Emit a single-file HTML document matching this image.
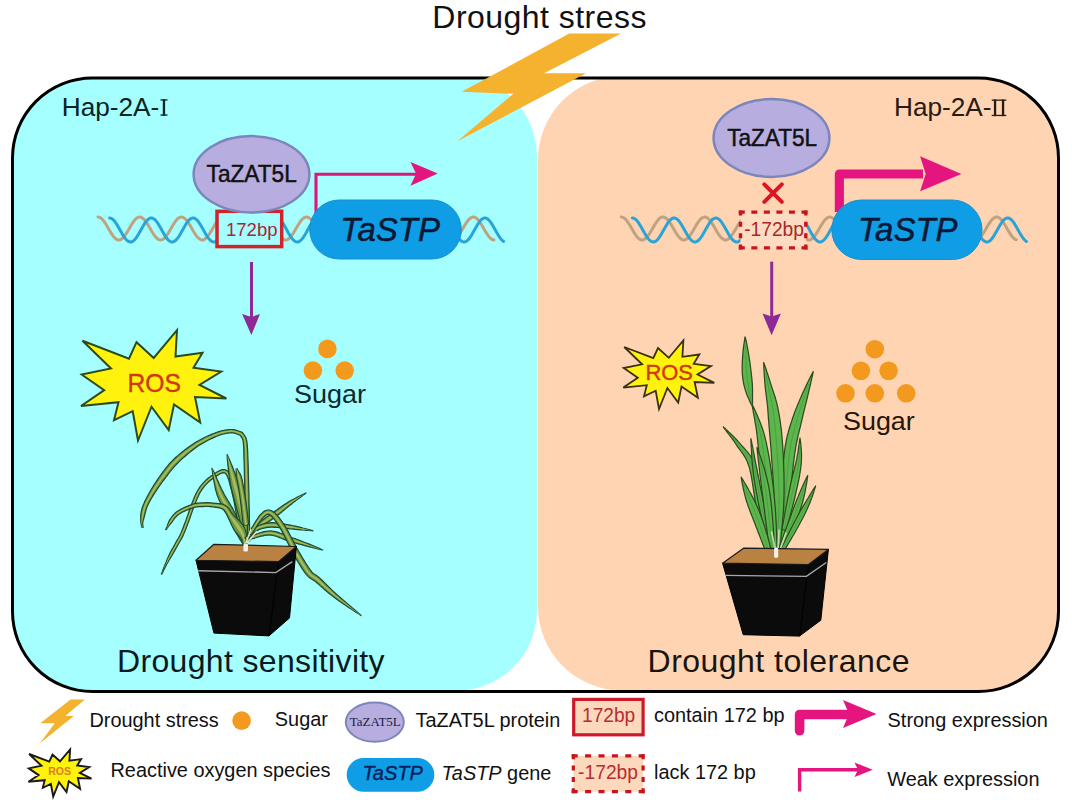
<!DOCTYPE html>
<html><head><meta charset="utf-8"><title>Drought stress TaSTP</title>
<style>
html,body{margin:0;padding:0;background:#fff;width:1072px;height:800px;overflow:hidden}
svg{display:block;position:absolute;left:0;top:0}
text{font-family:"Liberation Sans",sans-serif}
</style></head><body>
<svg width="1072" height="800" viewBox="0 0 1072 800"><defs><clipPath id="oc"><rect x="12.5" y="78" width="1046" height="613.5" rx="80" ry="80"/></clipPath></defs><g clip-path="url(#oc)"><rect x="0" y="0" width="1072" height="800" fill="#fff"/><path d="M0 76 H457 A80 80 0 0 1 537 156 V610.5 A80 80 0 0 1 457 690.5 H0 Z" fill="#A6FFFF"/><path d="M1072 76 H622 A84 84 0 0 0 538 160 V606.5 A84 84 0 0 0 622 690.5 H1072 Z" fill="#FED4B2"/></g><rect x="12.5" y="78" width="1046" height="613.5" rx="80" ry="80" fill="none" stroke="#000" stroke-width="3"/><path d="M98.0 217.0 L99.0 217.1 L100.0 217.5 L101.0 218.2 L102.0 219.0 L103.0 220.1 L104.0 221.4 L105.0 222.8 L106.0 224.4 L107.0 226.0 L108.0 227.8 L109.0 229.5 L110.0 231.2 L111.0 232.9 L112.0 234.4 L113.0 235.8 L114.0 237.1 L115.0 238.1 L116.0 239.0 L117.0 239.6 L118.0 239.9 L119.0 240.0 L120.0 239.8 L121.0 239.4 L122.0 238.7 L123.0 237.8 L124.0 236.7 L125.0 235.4 L126.0 233.9 L127.0 232.4 L128.0 230.7 L129.0 229.0 L130.0 227.2 L131.0 225.5 L132.0 223.9 L133.0 222.4 L134.0 221.0 L135.0 219.8 L136.0 218.7 L137.0 217.9 L138.0 217.4 L139.0 217.1 L140.0 217.0 L141.0 217.2 L142.0 217.7 L143.0 218.4 L144.0 219.3 L145.0 220.5 L146.0 221.8 L147.0 223.3 L148.0 224.9 L149.0 226.6 L150.0 228.3 L151.0 230.0 L152.0 231.7 L153.0 233.3 L154.0 234.8 L155.0 236.2 L156.0 237.4 L157.0 238.4 L158.0 239.2 L159.0 239.7 L160.0 240.0 L161.0 240.0 L162.0 239.7 L163.0 239.2 L164.0 238.5 L165.0 237.5 L166.0 236.3 L167.0 235.0 L168.0 233.5 L169.0 231.9 L170.0 230.2 L171.0 228.5 L172.0 226.7 L173.0 225.0 L174.0 223.4 L175.0 221.9 L176.0 220.6 L177.0 219.4 L178.0 218.5 L179.0 217.7 L180.0 217.3 L181.0 217.0 L182.0 217.0 L183.0 217.3 L184.0 217.9 L185.0 218.7 L186.0 219.7 L187.0 220.9 L188.0 222.2 L189.0 223.8 L190.0 225.4 L191.0 227.1 L192.0 228.8 L193.0 230.5 L194.0 232.2 L195.0 233.8 L196.0 235.3 L197.0 236.6 L198.0 237.7 L199.0 238.6 L200.0 239.3 L201.0 239.8 L202.0 240.0 L203.0 239.9 L204.0 239.6 L205.0 239.0 L206.0 238.2 L207.0 237.2 L208.0 235.9 L209.0 234.5 L210.0 233.0 L211.0 231.4 L212.0 229.7 L213.0 227.9 L214.0 226.2 L215.0 224.6 L216.0 223.0 L217.0 221.5 L218.0 220.2 L219.0 219.1 L220.0 218.2 L221.0 217.6 L222.0 217.2 L223.0 217.0 L224.0 217.1 L225.0 217.5 L226.0 218.1 L227.0 218.9 L228.0 220.0 L229.0 221.3 L230.0 222.7 L231.0 224.2 L232.0 225.9 L233.0 227.6 L234.0 229.3 L235.0 231.0 L236.0 232.7 L237.0 234.2 L238.0 235.7 L239.0 236.9 L240.0 238.0 L241.0 238.9 L242.0 239.5 L243.0 239.9 L244.0 240.0 L245.0 239.9 L246.0 239.5 L247.0 238.8 L248.0 237.9 L249.0 236.8 L250.0 235.5 L251.0 234.1 L252.0 232.5 L253.0 230.9 L254.0 229.1 L255.0 227.4 L256.0 225.7 L257.0 224.1 L258.0 222.5 L259.0 221.1 L260.0 219.9 L261.0 218.8 L262.0 218.0 L263.0 217.4 L264.0 217.1 L265.0 217.0 L266.0 217.2 L267.0 217.6 L268.0 218.3 L269.0 219.2 L270.0 220.4 L271.0 221.7 L272.0 223.1 L273.0 224.7 L274.0 226.4 L275.0 228.1 L276.0 229.8 L277.0 231.5 L278.0 233.2 L279.0 234.7 L280.0 236.1 L281.0 237.3 L282.0 238.3 L283.0 239.1 L284.0 239.6 L285.0 239.9 L286.0 240.0 L287.0 239.8 L288.0 239.3 L289.0 238.6 L290.0 237.6 L291.0 236.5 L292.0 235.1 L293.0 233.6 L294.0 232.0 L295.0 230.4 L296.0 228.6 L297.0 226.9 L298.0 225.2 L299.0 223.6 L300.0 222.1 L301.0 220.7 L302.0 219.5 L303.0 218.6 L304.0 217.8 L305.0 217.3 L306.0 217.0 L307.0 217.0 L308.0 217.3 L309.0 217.8 L310.0 218.6 L311.0 219.5 L312.0 220.7 L313.0 222.1 L314.0 223.6 L315.0 225.2 L316.0 226.9 L317.0 228.6 L318.0 230.4 L319.0 232.0 L320.0 233.6 L321.0 235.1 L322.0 236.5 L323.0 237.6 L324.0 238.6 L325.0 239.3 L326.0 239.8 L327.0 240.0 L328.0 239.9 L329.0 239.6 L330.0 239.1 L331.0 238.3 L332.0 237.3 L333.0 236.1 L334.0 234.7 L335.0 233.2 L336.0 231.5 L337.0 229.8 L338.0 228.1 L339.0 226.4 L340.0 224.7 L341.0 223.1 L342.0 221.7 L343.0 220.4 L344.0 219.2 L345.0 218.3 L346.0 217.6 L347.0 217.2 L348.0 217.0 L349.0 217.1 L350.0 217.4 L351.0 218.0 L352.0 218.8 L353.0 219.9 L354.0 221.1 L355.0 222.5 L356.0 224.1 L357.0 225.7 L358.0 227.4 L359.0 229.1 L360.0 230.9 L361.0 232.5 L362.0 234.1 L363.0 235.5 L364.0 236.8 L365.0 237.9 L366.0 238.8 L367.0 239.5 L368.0 239.9 L369.0 240.0 L370.0 239.9 L371.0 239.5 L372.0 238.9 L373.0 238.0 L374.0 236.9 L375.0 235.7 L376.0 234.3 L377.0 232.7 L378.0 231.0 L379.0 229.3 L380.0 227.6 L381.0 225.9 L382.0 224.2 L383.0 222.7 L384.0 221.3 L385.0 220.0 L386.0 218.9 L387.0 218.1 L388.0 217.5 L389.0 217.1 L390.0 217.0 L391.0 217.2 L392.0 217.6 L393.0 218.2 L394.0 219.1 L395.0 220.2 L396.0 221.5 L397.0 223.0 L398.0 224.6 L399.0 226.2 L400.0 227.9 L401.0 229.7 L402.0 231.4 L403.0 233.0 L404.0 234.5 L405.0 235.9 L406.0 237.2 L407.0 238.2 L408.0 239.0 L409.0 239.6 L410.0 239.9 L411.0 240.0 L412.0 239.8 L413.0 239.3 L414.0 238.6 L415.0 237.7 L416.0 236.6 L417.0 235.3 L418.0 233.8 L419.0 232.2 L420.0 230.5 L421.0 228.8 L422.0 227.1 L423.0 225.4 L424.0 223.8 L425.0 222.2 L426.0 220.9 L427.0 219.7 L428.0 218.7 L429.0 217.9 L430.0 217.3 L431.0 217.0 L432.0 217.0 L433.0 217.3 L434.0 217.7 L435.0 218.5 L436.0 219.4 L437.0 220.6 L438.0 221.9 L439.0 223.4 L440.0 225.0 L441.0 226.7 L442.0 228.5 L443.0 230.2 L444.0 231.9 L445.0 233.5 L446.0 235.0 L447.0 236.3 L448.0 237.5 L449.0 238.5 L450.0 239.2 L451.0 239.7 L452.0 240.0 L453.0 240.0 L454.0 239.7 L455.0 239.2 L456.0 238.4 L457.0 237.4 L458.0 236.2 L459.0 234.8 L460.0 233.3 L461.0 231.7 L462.0 230.0 L463.0 228.3 L464.0 226.6 L465.0 224.9 L466.0 223.3 L467.0 221.8 L468.0 220.5 L469.0 219.3 L470.0 218.4 L471.0 217.7 L472.0 217.2 L473.0 217.0 L474.0 217.1 L475.0 217.4 L476.0 217.9 L477.0 218.7 L478.0 219.8 L479.0 221.0 L480.0 222.4 L481.0 223.9 L482.0 225.5 L483.0 227.2 L484.0 229.0 L485.0 230.7 L486.0 232.4 L487.0 233.9 L488.0 235.4 L489.0 236.7 L490.0 237.8 L491.0 238.7 L492.0 239.4 L493.0 239.8 L494.0 240.0" fill="none" stroke="#C0A281" stroke-width="3.0" stroke-linecap="round"/><path d="M109.6 218.0 L110.6 218.1 L111.6 218.5 L112.6 219.2 L113.6 220.1 L114.6 221.2 L115.6 222.6 L116.6 224.1 L117.6 225.7 L118.6 227.4 L119.6 229.2 L120.6 231.0 L121.6 232.8 L122.6 234.5 L123.6 236.2 L124.6 237.6 L125.6 238.9 L126.6 240.0 L127.6 240.9 L128.6 241.5 L129.6 241.9 L130.6 242.0 L131.6 241.8 L132.6 241.4 L133.6 240.7 L134.6 239.7 L135.6 238.6 L136.6 237.2 L137.6 235.7 L138.6 234.0 L139.6 232.3 L140.6 230.5 L141.6 228.7 L142.6 226.9 L143.6 225.2 L144.6 223.6 L145.6 222.2 L146.6 220.9 L147.6 219.8 L148.6 219.0 L149.6 218.4 L150.6 218.1 L151.6 218.0 L152.6 218.2 L153.6 218.7 L154.6 219.5 L155.6 220.4 L156.6 221.6 L157.6 223.0 L158.6 224.6 L159.6 226.2 L160.6 228.0 L161.6 229.8 L162.6 231.6 L163.6 233.3 L164.6 235.0 L165.6 236.6 L166.6 238.0 L167.6 239.3 L168.6 240.3 L169.6 241.1 L170.6 241.7 L171.6 242.0 L172.6 242.0 L173.6 241.7 L174.6 241.2 L175.6 240.4 L176.6 239.4 L177.6 238.2 L178.6 236.8 L179.6 235.2 L180.6 233.5 L181.6 231.8 L182.6 230.0 L183.6 228.2 L184.6 226.4 L185.6 224.7 L186.6 223.2 L187.6 221.8 L188.6 220.5 L189.6 219.5 L190.6 218.8 L191.6 218.3 L192.6 218.0 L193.6 218.0 L194.6 218.3 L195.6 218.9 L196.6 219.7 L197.6 220.8 L198.6 222.0 L199.6 223.5 L200.6 225.0 L201.6 226.7 L202.6 228.5 L203.6 230.3 L204.6 232.1 L205.6 233.9 L206.6 235.5 L207.6 237.1 L208.6 238.4 L209.6 239.6 L210.6 240.6 L211.6 241.3 L212.6 241.8 L213.6 242.0 L214.6 241.9 L215.6 241.6 L216.6 241.0 L217.6 240.1 L218.6 239.1 L219.6 237.8 L220.6 236.3 L221.6 234.7 L222.6 233.0 L223.6 231.2 L224.6 229.4 L225.6 227.6 L226.6 225.9 L227.6 224.2 L228.6 222.7 L229.6 221.4 L230.6 220.2 L231.6 219.3 L232.6 218.6 L233.6 218.2 L234.6 218.0 L235.6 218.1 L236.6 218.5 L237.6 219.1 L238.6 220.0 L239.6 221.1 L240.6 222.4 L241.6 223.9 L242.6 225.5 L243.6 227.3 L244.6 229.1 L245.6 230.9 L246.6 232.6 L247.6 234.4 L248.6 236.0 L249.6 237.5 L250.6 238.8 L251.6 239.9 L252.6 240.8 L253.6 241.5 L254.6 241.9 L255.6 242.0 L256.6 241.9 L257.6 241.4 L258.6 240.8 L259.6 239.8 L260.6 238.7 L261.6 237.3 L262.6 235.8 L263.6 234.2 L264.6 232.5 L265.6 230.7 L266.6 228.9 L267.6 227.1 L268.6 225.4 L269.6 223.8 L270.6 222.3 L271.6 221.0 L272.6 219.9 L273.6 219.1 L274.6 218.4 L275.6 218.1 L276.6 218.0 L277.6 218.2 L278.6 218.7 L279.6 219.4 L280.6 220.3 L281.6 221.5 L282.6 222.9 L283.6 224.4 L284.6 226.1 L285.6 227.8 L286.6 229.6 L287.6 231.4 L288.6 233.2 L289.6 234.9 L290.6 236.5 L291.6 237.9 L292.6 239.2 L293.6 240.2 L294.6 241.1 L295.6 241.6 L296.6 241.9 L297.6 242.0 L298.6 241.8 L299.6 241.3 L300.6 240.5 L301.6 239.5 L302.6 238.3 L303.6 236.9 L304.6 235.4 L305.6 233.7 L306.6 231.9 L307.6 230.1 L308.6 228.3 L309.6 226.6 L310.6 224.9 L311.6 223.3 L312.6 221.9 L313.6 220.7 L314.6 219.6 L315.6 218.8 L316.6 218.3 L317.6 218.0 L318.6 218.0 L319.6 218.3 L320.6 218.8 L321.6 219.6 L322.6 220.7 L323.6 221.9 L324.6 223.3 L325.6 224.9 L326.6 226.6 L327.6 228.3 L328.6 230.1 L329.6 231.9 L330.6 233.7 L331.6 235.4 L332.6 236.9 L333.6 238.3 L334.6 239.5 L335.6 240.5 L336.6 241.3 L337.6 241.8 L338.6 242.0 L339.6 241.9 L340.6 241.6 L341.6 241.1 L342.6 240.2 L343.6 239.2 L344.6 237.9 L345.6 236.5 L346.6 234.9 L347.6 233.2 L348.6 231.4 L349.6 229.6 L350.6 227.8 L351.6 226.1 L352.6 224.4 L353.6 222.9 L354.6 221.5 L355.6 220.3 L356.6 219.4 L357.6 218.7 L358.6 218.2 L359.6 218.0 L360.6 218.1 L361.6 218.4 L362.6 219.1 L363.6 219.9 L364.6 221.0 L365.6 222.3 L366.6 223.8 L367.6 225.4 L368.6 227.1 L369.6 228.9 L370.6 230.7 L371.6 232.5 L372.6 234.2 L373.6 235.8 L374.6 237.3 L375.6 238.7 L376.6 239.8 L377.6 240.8 L378.6 241.4 L379.6 241.9 L380.6 242.0 L381.6 241.9 L382.6 241.5 L383.6 240.8 L384.6 239.9 L385.6 238.8 L386.6 237.5 L387.6 236.0 L388.6 234.4 L389.6 232.6 L390.6 230.9 L391.6 229.1 L392.6 227.3 L393.6 225.5 L394.6 223.9 L395.6 222.4 L396.6 221.1 L397.6 220.0 L398.6 219.1 L399.6 218.5 L400.6 218.1 L401.6 218.0 L402.6 218.2 L403.6 218.6 L404.6 219.3 L405.6 220.2 L406.6 221.4 L407.6 222.7 L408.6 224.2 L409.6 225.9 L410.6 227.6 L411.6 229.4 L412.6 231.2 L413.6 233.0 L414.6 234.7 L415.6 236.3 L416.6 237.8 L417.6 239.1 L418.6 240.1 L419.6 241.0 L420.6 241.6 L421.6 241.9 L422.6 242.0 L423.6 241.8 L424.6 241.3 L425.6 240.6 L426.6 239.6 L427.6 238.4 L428.6 237.1 L429.6 235.5 L430.6 233.9 L431.6 232.1 L432.6 230.3 L433.6 228.5 L434.6 226.7 L435.6 225.0 L436.6 223.5 L437.6 222.0 L438.6 220.8 L439.6 219.7 L440.6 218.9 L441.6 218.3 L442.6 218.0 L443.6 218.0 L444.6 218.3 L445.6 218.8 L446.6 219.5 L447.6 220.5 L448.6 221.8 L449.6 223.2 L450.6 224.7 L451.6 226.4 L452.6 228.2 L453.6 230.0 L454.6 231.8 L455.6 233.5 L456.6 235.2 L457.6 236.8 L458.6 238.2 L459.6 239.4 L460.6 240.4 L461.6 241.2 L462.6 241.7 L463.6 242.0 L464.6 242.0 L465.6 241.7 L466.6 241.1 L467.6 240.3 L468.6 239.3 L469.6 238.0 L470.6 236.6 L471.6 235.0 L472.6 233.3 L473.6 231.6 L474.6 229.8 L475.6 228.0 L476.6 226.2 L477.6 224.6 L478.6 223.0 L479.6 221.6 L480.6 220.4 L481.6 219.5 L482.6 218.7 L483.6 218.2 L484.6 218.0 L485.6 218.1 L486.6 218.4 L487.6 219.0 L488.6 219.8 L489.6 220.9 L490.6 222.2 L491.6 223.6 L492.6 225.2 L493.6 226.9 L494.6 228.7 L495.6 230.5 L496.6 232.3 L497.6 234.0 L498.6 235.7 L499.6 237.2 L500.6 238.6 L501.6 239.7 L502.6 240.7 L503.6 241.4" fill="none" stroke="#2AA4D6" stroke-width="3.0" stroke-linecap="round"/><path d="M621.3 217.0 L622.3 217.1 L623.3 217.5 L624.3 218.2 L625.3 219.0 L626.3 220.1 L627.3 221.4 L628.3 222.8 L629.3 224.4 L630.3 226.0 L631.3 227.8 L632.3 229.5 L633.3 231.2 L634.3 232.9 L635.3 234.4 L636.3 235.8 L637.3 237.1 L638.3 238.1 L639.3 239.0 L640.3 239.6 L641.3 239.9 L642.3 240.0 L643.3 239.8 L644.3 239.4 L645.3 238.7 L646.3 237.8 L647.3 236.7 L648.3 235.4 L649.3 233.9 L650.3 232.4 L651.3 230.7 L652.3 229.0 L653.3 227.2 L654.3 225.5 L655.3 223.9 L656.3 222.4 L657.3 221.0 L658.3 219.8 L659.3 218.7 L660.3 217.9 L661.3 217.4 L662.3 217.1 L663.3 217.0 L664.3 217.2 L665.3 217.7 L666.3 218.4 L667.3 219.3 L668.3 220.5 L669.3 221.8 L670.3 223.3 L671.3 224.9 L672.3 226.6 L673.3 228.3 L674.3 230.0 L675.3 231.7 L676.3 233.3 L677.3 234.8 L678.3 236.2 L679.3 237.4 L680.3 238.4 L681.3 239.2 L682.3 239.7 L683.3 240.0 L684.3 240.0 L685.3 239.7 L686.3 239.2 L687.3 238.5 L688.3 237.5 L689.3 236.3 L690.3 235.0 L691.3 233.5 L692.3 231.9 L693.3 230.2 L694.3 228.5 L695.3 226.7 L696.3 225.0 L697.3 223.4 L698.3 221.9 L699.3 220.6 L700.3 219.4 L701.3 218.5 L702.3 217.7 L703.3 217.3 L704.3 217.0 L705.3 217.0 L706.3 217.3 L707.3 217.9 L708.3 218.7 L709.3 219.7 L710.3 220.9 L711.3 222.2 L712.3 223.8 L713.3 225.4 L714.3 227.1 L715.3 228.8 L716.3 230.5 L717.3 232.2 L718.3 233.8 L719.3 235.3 L720.3 236.6 L721.3 237.7 L722.3 238.6 L723.3 239.3 L724.3 239.8 L725.3 240.0 L726.3 239.9 L727.3 239.6 L728.3 239.0 L729.3 238.2 L730.3 237.2 L731.3 235.9 L732.3 234.5 L733.3 233.0 L734.3 231.4 L735.3 229.7 L736.3 227.9 L737.3 226.2 L738.3 224.6 L739.3 223.0 L740.3 221.5 L741.3 220.2 L742.3 219.1 L743.3 218.2 L744.3 217.6 L745.3 217.2 L746.3 217.0 L747.3 217.1 L748.3 217.5 L749.3 218.1 L750.3 218.9 L751.3 220.0 L752.3 221.3 L753.3 222.7 L754.3 224.2 L755.3 225.9 L756.3 227.6 L757.3 229.3 L758.3 231.0 L759.3 232.7 L760.3 234.2 L761.3 235.7 L762.3 236.9 L763.3 238.0 L764.3 238.9 L765.3 239.5 L766.3 239.9 L767.3 240.0 L768.3 239.9 L769.3 239.5 L770.3 238.8 L771.3 237.9 L772.3 236.8 L773.3 235.5 L774.3 234.1 L775.3 232.5 L776.3 230.9 L777.3 229.1 L778.3 227.4 L779.3 225.7 L780.3 224.1 L781.3 222.5 L782.3 221.1 L783.3 219.9 L784.3 218.8 L785.3 218.0 L786.3 217.4 L787.3 217.1 L788.3 217.0 L789.3 217.2 L790.3 217.6 L791.3 218.3 L792.3 219.2 L793.3 220.4 L794.3 221.7 L795.3 223.1 L796.3 224.7 L797.3 226.4 L798.3 228.1 L799.3 229.8 L800.3 231.5 L801.3 233.2 L802.3 234.7 L803.3 236.1 L804.3 237.3 L805.3 238.3 L806.3 239.1 L807.3 239.6 L808.3 239.9 L809.3 240.0 L810.3 239.8 L811.3 239.3 L812.3 238.6 L813.3 237.6 L814.3 236.5 L815.3 235.1 L816.3 233.6 L817.3 232.0 L818.3 230.4 L819.3 228.6 L820.3 226.9 L821.3 225.2 L822.3 223.6 L823.3 222.1 L824.3 220.7 L825.3 219.5 L826.3 218.6 L827.3 217.8 L828.3 217.3 L829.3 217.0 L830.3 217.0 L831.3 217.3 L832.3 217.8 L833.3 218.6 L834.3 219.5 L835.3 220.7 L836.3 222.1 L837.3 223.6 L838.3 225.2 L839.3 226.9 L840.3 228.6 L841.3 230.4 L842.3 232.0 L843.3 233.6 L844.3 235.1 L845.3 236.5 L846.3 237.6 L847.3 238.6 L848.3 239.3 L849.3 239.8 L850.3 240.0 L851.3 239.9 L852.3 239.6 L853.3 239.1 L854.3 238.3 L855.3 237.3 L856.3 236.1 L857.3 234.7 L858.3 233.2 L859.3 231.5 L860.3 229.8 L861.3 228.1 L862.3 226.4 L863.3 224.7 L864.3 223.1 L865.3 221.7 L866.3 220.4 L867.3 219.2 L868.3 218.3 L869.3 217.6 L870.3 217.2 L871.3 217.0 L872.3 217.1 L873.3 217.4 L874.3 218.0 L875.3 218.8 L876.3 219.9 L877.3 221.1 L878.3 222.5 L879.3 224.1 L880.3 225.7 L881.3 227.4 L882.3 229.1 L883.3 230.9 L884.3 232.5 L885.3 234.1 L886.3 235.5 L887.3 236.8 L888.3 237.9 L889.3 238.8 L890.3 239.5 L891.3 239.9 L892.3 240.0 L893.3 239.9 L894.3 239.5 L895.3 238.9 L896.3 238.0 L897.3 236.9 L898.3 235.7 L899.3 234.3 L900.3 232.7 L901.3 231.0 L902.3 229.3 L903.3 227.6 L904.3 225.9 L905.3 224.2 L906.3 222.7 L907.3 221.3 L908.3 220.0 L909.3 218.9 L910.3 218.1 L911.3 217.5 L912.3 217.1 L913.3 217.0 L914.3 217.2 L915.3 217.6 L916.3 218.2 L917.3 219.1 L918.3 220.2 L919.3 221.5 L920.3 223.0 L921.3 224.6 L922.3 226.2 L923.3 227.9 L924.3 229.7 L925.3 231.4 L926.3 233.0 L927.3 234.5 L928.3 235.9 L929.3 237.2 L930.3 238.2 L931.3 239.0 L932.3 239.6 L933.3 239.9 L934.3 240.0 L935.3 239.8 L936.3 239.3 L937.3 238.6 L938.3 237.7 L939.3 236.6 L940.3 235.3 L941.3 233.8 L942.3 232.2 L943.3 230.5 L944.3 228.8 L945.3 227.1 L946.3 225.4 L947.3 223.8 L948.3 222.2 L949.3 220.9 L950.3 219.7 L951.3 218.7 L952.3 217.9 L953.3 217.3 L954.3 217.0 L955.3 217.0 L956.3 217.3 L957.3 217.7 L958.3 218.5 L959.3 219.4 L960.3 220.6 L961.3 221.9 L962.3 223.4 L963.3 225.0 L964.3 226.7 L965.3 228.5 L966.3 230.2 L967.3 231.9 L968.3 233.5 L969.3 235.0 L970.3 236.3 L971.3 237.5 L972.3 238.5 L973.3 239.2 L974.3 239.7 L975.3 240.0 L976.3 240.0 L977.3 239.7 L978.3 239.2 L979.3 238.4 L980.3 237.4 L981.3 236.2 L982.3 234.8 L983.3 233.3 L984.3 231.7 L985.3 230.0 L986.3 228.3 L987.3 226.6 L988.3 224.9 L989.3 223.3 L990.3 221.8 L991.3 220.5 L992.3 219.3 L993.3 218.4 L994.3 217.7 L995.3 217.2 L996.3 217.0 L997.3 217.1 L998.3 217.4 L999.3 217.9 L1000.3 218.7 L1001.3 219.8 L1002.3 221.0 L1003.3 222.4 L1004.3 223.9 L1005.3 225.5 L1006.3 227.2 L1007.3 229.0 L1008.3 230.7 L1009.3 232.4 L1010.3 233.9 L1011.3 235.4 L1012.3 236.7 L1013.3 237.8 L1014.3 238.7 L1015.3 239.4 L1016.3 239.8" fill="none" stroke="#C0A281" stroke-width="3.0" stroke-linecap="round"/><path d="M632.4 218.0 L633.4 218.1 L634.4 218.5 L635.4 219.2 L636.4 220.1 L637.4 221.2 L638.4 222.6 L639.4 224.1 L640.4 225.7 L641.4 227.4 L642.4 229.2 L643.4 231.0 L644.4 232.8 L645.4 234.5 L646.4 236.2 L647.4 237.6 L648.4 238.9 L649.4 240.0 L650.4 240.9 L651.4 241.5 L652.4 241.9 L653.4 242.0 L654.4 241.8 L655.4 241.4 L656.4 240.7 L657.4 239.7 L658.4 238.6 L659.4 237.2 L660.4 235.7 L661.4 234.0 L662.4 232.3 L663.4 230.5 L664.4 228.7 L665.4 226.9 L666.4 225.2 L667.4 223.6 L668.4 222.2 L669.4 220.9 L670.4 219.8 L671.4 219.0 L672.4 218.4 L673.4 218.1 L674.4 218.0 L675.4 218.2 L676.4 218.7 L677.4 219.5 L678.4 220.4 L679.4 221.6 L680.4 223.0 L681.4 224.6 L682.4 226.2 L683.4 228.0 L684.4 229.8 L685.4 231.6 L686.4 233.3 L687.4 235.0 L688.4 236.6 L689.4 238.0 L690.4 239.3 L691.4 240.3 L692.4 241.1 L693.4 241.7 L694.4 242.0 L695.4 242.0 L696.4 241.7 L697.4 241.2 L698.4 240.4 L699.4 239.4 L700.4 238.2 L701.4 236.8 L702.4 235.2 L703.4 233.5 L704.4 231.8 L705.4 230.0 L706.4 228.2 L707.4 226.4 L708.4 224.7 L709.4 223.2 L710.4 221.8 L711.4 220.5 L712.4 219.5 L713.4 218.8 L714.4 218.3 L715.4 218.0 L716.4 218.0 L717.4 218.3 L718.4 218.9 L719.4 219.7 L720.4 220.8 L721.4 222.0 L722.4 223.5 L723.4 225.0 L724.4 226.7 L725.4 228.5 L726.4 230.3 L727.4 232.1 L728.4 233.9 L729.4 235.5 L730.4 237.1 L731.4 238.4 L732.4 239.6 L733.4 240.6 L734.4 241.3 L735.4 241.8 L736.4 242.0 L737.4 241.9 L738.4 241.6 L739.4 241.0 L740.4 240.1 L741.4 239.1 L742.4 237.8 L743.4 236.3 L744.4 234.7 L745.4 233.0 L746.4 231.2 L747.4 229.4 L748.4 227.6 L749.4 225.9 L750.4 224.2 L751.4 222.7 L752.4 221.4 L753.4 220.2 L754.4 219.3 L755.4 218.6 L756.4 218.2 L757.4 218.0 L758.4 218.1 L759.4 218.5 L760.4 219.1 L761.4 220.0 L762.4 221.1 L763.4 222.4 L764.4 223.9 L765.4 225.5 L766.4 227.3 L767.4 229.1 L768.4 230.9 L769.4 232.6 L770.4 234.4 L771.4 236.0 L772.4 237.5 L773.4 238.8 L774.4 239.9 L775.4 240.8 L776.4 241.5 L777.4 241.9 L778.4 242.0 L779.4 241.9 L780.4 241.4 L781.4 240.8 L782.4 239.8 L783.4 238.7 L784.4 237.3 L785.4 235.8 L786.4 234.2 L787.4 232.5 L788.4 230.7 L789.4 228.9 L790.4 227.1 L791.4 225.4 L792.4 223.8 L793.4 222.3 L794.4 221.0 L795.4 219.9 L796.4 219.1 L797.4 218.4 L798.4 218.1 L799.4 218.0 L800.4 218.2 L801.4 218.7 L802.4 219.4 L803.4 220.3 L804.4 221.5 L805.4 222.9 L806.4 224.4 L807.4 226.1 L808.4 227.8 L809.4 229.6 L810.4 231.4 L811.4 233.2 L812.4 234.9 L813.4 236.5 L814.4 237.9 L815.4 239.2 L816.4 240.2 L817.4 241.1 L818.4 241.6 L819.4 241.9 L820.4 242.0 L821.4 241.8 L822.4 241.3 L823.4 240.5 L824.4 239.5 L825.4 238.3 L826.4 236.9 L827.4 235.4 L828.4 233.7 L829.4 231.9 L830.4 230.1 L831.4 228.3 L832.4 226.6 L833.4 224.9 L834.4 223.3 L835.4 221.9 L836.4 220.7 L837.4 219.6 L838.4 218.8 L839.4 218.3 L840.4 218.0 L841.4 218.0 L842.4 218.3 L843.4 218.8 L844.4 219.6 L845.4 220.7 L846.4 221.9 L847.4 223.3 L848.4 224.9 L849.4 226.6 L850.4 228.3 L851.4 230.1 L852.4 231.9 L853.4 233.7 L854.4 235.4 L855.4 236.9 L856.4 238.3 L857.4 239.5 L858.4 240.5 L859.4 241.3 L860.4 241.8 L861.4 242.0 L862.4 241.9 L863.4 241.6 L864.4 241.1 L865.4 240.2 L866.4 239.2 L867.4 237.9 L868.4 236.5 L869.4 234.9 L870.4 233.2 L871.4 231.4 L872.4 229.6 L873.4 227.8 L874.4 226.1 L875.4 224.4 L876.4 222.9 L877.4 221.5 L878.4 220.3 L879.4 219.4 L880.4 218.7 L881.4 218.2 L882.4 218.0 L883.4 218.1 L884.4 218.4 L885.4 219.1 L886.4 219.9 L887.4 221.0 L888.4 222.3 L889.4 223.8 L890.4 225.4 L891.4 227.1 L892.4 228.9 L893.4 230.7 L894.4 232.5 L895.4 234.2 L896.4 235.8 L897.4 237.3 L898.4 238.7 L899.4 239.8 L900.4 240.8 L901.4 241.4 L902.4 241.9 L903.4 242.0 L904.4 241.9 L905.4 241.5 L906.4 240.8 L907.4 239.9 L908.4 238.8 L909.4 237.5 L910.4 236.0 L911.4 234.4 L912.4 232.6 L913.4 230.9 L914.4 229.1 L915.4 227.3 L916.4 225.5 L917.4 223.9 L918.4 222.4 L919.4 221.1 L920.4 220.0 L921.4 219.1 L922.4 218.5 L923.4 218.1 L924.4 218.0 L925.4 218.2 L926.4 218.6 L927.4 219.3 L928.4 220.2 L929.4 221.4 L930.4 222.7 L931.4 224.2 L932.4 225.9 L933.4 227.6 L934.4 229.4 L935.4 231.2 L936.4 233.0 L937.4 234.7 L938.4 236.3 L939.4 237.8 L940.4 239.1 L941.4 240.1 L942.4 241.0 L943.4 241.6 L944.4 241.9 L945.4 242.0 L946.4 241.8 L947.4 241.3 L948.4 240.6 L949.4 239.6 L950.4 238.4 L951.4 237.1 L952.4 235.5 L953.4 233.9 L954.4 232.1 L955.4 230.3 L956.4 228.5 L957.4 226.7 L958.4 225.0 L959.4 223.5 L960.4 222.0 L961.4 220.8 L962.4 219.7 L963.4 218.9 L964.4 218.3 L965.4 218.0 L966.4 218.0 L967.4 218.3 L968.4 218.8 L969.4 219.5 L970.4 220.5 L971.4 221.8 L972.4 223.2 L973.4 224.7 L974.4 226.4 L975.4 228.2 L976.4 230.0 L977.4 231.8 L978.4 233.5 L979.4 235.2 L980.4 236.8 L981.4 238.2 L982.4 239.4 L983.4 240.4 L984.4 241.2 L985.4 241.7 L986.4 242.0 L987.4 242.0 L988.4 241.7 L989.4 241.1 L990.4 240.3 L991.4 239.3 L992.4 238.0 L993.4 236.6 L994.4 235.0 L995.4 233.3 L996.4 231.6 L997.4 229.8 L998.4 228.0 L999.4 226.2 L1000.4 224.6 L1001.4 223.0 L1002.4 221.6 L1003.4 220.4 L1004.4 219.5 L1005.4 218.7 L1006.4 218.2 L1007.4 218.0 L1008.4 218.1 L1009.4 218.4 L1010.4 219.0 L1011.4 219.8 L1012.4 220.9 L1013.4 222.2 L1014.4 223.6 L1015.4 225.2 L1016.4 226.9 L1017.4 228.7 L1018.4 230.5 L1019.4 232.3 L1020.4 234.0 L1021.4 235.7 L1022.4 237.2 L1023.4 238.6 L1024.4 239.7 L1025.4 240.7 L1026.4 241.4" fill="none" stroke="#2AA4D6" stroke-width="3.0" stroke-linecap="round"/><rect x="217" y="211.3" width="64.7" height="35.3" fill="#A6FFFF" stroke="#D2232A" stroke-width="3.5"/><text x="226" y="235.6" font-size="19" textLength="51.5" lengthAdjust="spacingAndGlyphs" fill="#A3283A">172bp</text><ellipse cx="251.5" cy="174.3" rx="57.9" ry="38.2" fill="#B7AEDF" stroke="#7D86BC" stroke-width="2.5"/><text x="206.6" y="182.4" font-size="24" textLength="90.2" lengthAdjust="spacingAndGlyphs" fill="#111" stroke="#111" stroke-width="0.5">TaZAT5L</text><path d="M316 214 V174.2 H418" fill="none" stroke="#DA1879" stroke-width="3.1"/><path d="M437.8 173.6 L410.5 161.9 L416.1 173.8 L410.5 185.7 Z" fill="#E5157F"/><rect x="309.7" y="200" width="151.6" height="59" rx="29.5" fill="#0F9DE6" stroke="#1790CC" stroke-width="1"/><text x="390.2" y="241.4" font-size="33" font-style="italic" text-anchor="middle" fill="#0B1733" stroke="#0B1733" stroke-width="0.5">TaSTP</text><path d="M251.5 262 V318" stroke="#8E2A98" stroke-width="3"/><path d="M251.4 335 L242.1 314 L251.4 317 L260 314 Z" fill="#8E2A98"/><polygon points="82.5,340.7 129.0,358.7 136.5,342.2 153.7,358.0 177.0,330.2 175.5,356.5 202.5,352.7 193.5,367.7 221.2,371.5 199.5,385.0 226.4,398.5 195.0,397.0 200.2,422.5 174.0,404.5 168.7,430.0 151.5,406.7 138.0,440.5 132.7,411.2 114.0,420.2 118.5,402.2 81.0,406.0 104.2,390.2 81.7,374.5 111.0,368.5" fill="#FFF20C" stroke="#2C4A1E" stroke-width="2" stroke-linejoin="miter"/><text x="127.5" y="391.8" font-size="26.5" textLength="53.5" lengthAdjust="spacingAndGlyphs" fill="#D0380F" stroke="#D0380F" stroke-width="0.4">ROS</text><circle cx="327.4" cy="348.9" r="9.3" fill="#F39A1E"/><circle cx="312.9" cy="370.6" r="9.3" fill="#F39A1E"/><circle cx="344.7" cy="370.6" r="9.3" fill="#F39A1E"/><text x="294" y="402.8" font-size="26.4" textLength="72" lengthAdjust="spacingAndGlyphs" fill="#0E2A2E">Sugar</text><path d="M764.3 184.3 L781.8 201.8 M781.8 184.3 L764.3 201.8" stroke="#DC1423" stroke-width="4" stroke-linecap="round"/><rect x="740.5" y="212.1" width="65.3" height="35.8" fill="#FDDCC2"/><line x1="738.8" y1="212.1" x2="807.5" y2="212.1" stroke="#C8141E" stroke-width="3.4" stroke-dasharray="6.00 6.54"/><line x1="738.8" y1="247.9" x2="807.5" y2="247.9" stroke="#C8141E" stroke-width="3.4" stroke-dasharray="6.00 6.54"/><line x1="740.5" y1="210.4" x2="740.5" y2="249.6" stroke="#C8141E" stroke-width="3.4" stroke-dasharray="5.00 6.40"/><line x1="805.8" y1="210.4" x2="805.8" y2="249.6" stroke="#C8141E" stroke-width="3.4" stroke-dasharray="5.00 6.40"/><text x="744.2" y="236.3" font-size="19.5" textLength="59.7" lengthAdjust="spacingAndGlyphs" fill="#A8282C">-172bp</text><ellipse cx="771.5" cy="138" rx="57.9" ry="38.9" fill="#B7AEDF" stroke="#7D86BC" stroke-width="2.5"/><text x="727.2" y="145.7" font-size="24" textLength="90" lengthAdjust="spacingAndGlyphs" fill="#111" stroke="#111" stroke-width="0.5">TaZAT5L</text><path d="M839.35 212 V174.05 H923" fill="none" stroke="#E5157F" stroke-width="9.1" stroke-linejoin="round"/><path d="M961.4 173.9 L920.1 156.2 L925.7 174 L920.1 191.2 Z" fill="#E5157F"/><rect x="831.8" y="200" width="150.2" height="59.5" rx="29.7" fill="#0F9DE6" stroke="#1790CC" stroke-width="1"/><text x="907.8" y="241" font-size="33" font-style="italic" text-anchor="middle" fill="#0B1733" stroke="#0B1733" stroke-width="0.5">TaSTP</text><path d="M771.7 261.7 V318" stroke="#8E2A98" stroke-width="3"/><path d="M771.6 335.3 L762.5 313.6 L771.6 316.5 L780.9 313.6 Z" fill="#8E2A98"/><polygon points="624.2,347.0 653.3,358.2 658.0,348.0 668.8,357.8 683.4,340.5 682.4,356.8 699.3,354.5 693.7,363.8 711.0,366.1 697.5,374.5 714.3,382.9 694.6,382.0 697.9,397.8 681.5,386.6 678.2,402.5 667.4,388.0 659.0,409.0 655.7,390.8 644.0,396.4 646.8,385.2 623.3,387.6 637.8,377.8 623.7,368.0 642.1,364.3" fill="#FFF20C" stroke="#3A3014" stroke-width="1.8"/><text x="645.4" y="380.4" font-size="22" textLength="47.5" lengthAdjust="spacingAndGlyphs" fill="#D0380F" stroke="#D0380F" stroke-width="0.4">ROS</text><circle cx="874.8" cy="349.2" r="9.3" fill="#F39A1E"/><circle cx="860.9" cy="370.8" r="9.3" fill="#F39A1E"/><circle cx="888.6" cy="370.8" r="9.3" fill="#F39A1E"/><circle cx="845.5" cy="393.3" r="9.3" fill="#F39A1E"/><circle cx="874.8" cy="393.3" r="9.3" fill="#F39A1E"/><circle cx="906.2" cy="393.3" r="9.3" fill="#F39A1E"/><text x="843" y="429.6" font-size="26" textLength="71.8" lengthAdjust="spacingAndGlyphs" fill="#2A1408">Sugar</text><text x="432.3" y="28.2" font-size="32" letter-spacing="0.47" fill="#111">Drought stress</text><polygon points="569.3,33.6 621.1,33.6 544.1,73.3 586.1,73.3 457.4,141.3 513.3,93.8 461.6,91.8" fill="#F4B22E"/><text x="61.8" y="115.65" font-size="26.2" fill="#0B2424">Hap-2A-</text><g fill="#0B2424"><rect x="160.5" y="99.3" width="7.0" height="1.3"/><rect x="160.5" y="114.4" width="7.0" height="1.3"/><rect x="162.8" y="99.3" width="2.3" height="16.4"/></g><text x="894" y="116.1" font-size="26.2" fill="#2A1A14">Hap-2A-</text><g fill="#2A1A14"><rect x="991.7" y="99.5" width="14.6" height="1.3"/><rect x="991.7" y="114.8" width="14.6" height="1.3"/><rect x="993.9" y="99.5" width="2.3" height="16.6"/><rect x="1001.9" y="99.5" width="2.3" height="16.6"/></g><text x="117" y="671.5" font-size="32" letter-spacing="0.34" fill="#0B1A1F">Drought sensitivity</text><text x="647.6" y="671.5" font-size="32" letter-spacing="0.47" fill="#1A1410">Drought tolerance</text><path d="M249.8 541.0 L249.8 539.0 L249.7 536.5 L249.7 533.6 L249.6 530.3 L249.6 526.7 L249.5 523.0 L249.4 519.1 L249.4 515.1 L249.3 511.1 L249.2 507.2 L249.1 503.5 L249.0 500.0 L249.0 496.5 L248.9 493.0 L248.8 489.4 L248.7 485.7 L248.6 482.1 L248.5 478.5 L248.4 475.0 L248.3 471.7 L248.3 468.4 L248.2 465.4 L248.1 462.5 L248.0 459.9 L247.9 457.6 L247.8 455.5 L247.8 453.5 L247.7 451.7 L247.6 450.1 L247.5 448.6 L247.4 447.2 L247.4 445.9 L247.2 444.6 L247.1 443.4 L247.0 442.3 L246.8 441.2 L246.6 440.1 L246.3 439.2 L246.1 438.3 L245.8 437.6 L245.5 436.9 L245.1 436.3 L244.8 435.8 L244.5 435.3 L244.2 434.9 L243.9 434.6 L243.6 434.3 L243.4 434.0 L243.2 433.7 L243.1 433.4 L242.9 433.2 L242.7 432.9 L242.4 432.6 L242.1 432.4 L241.7 432.2 L241.4 432.0 L241.1 431.9 L240.8 431.8 L240.5 431.7 L240.1 431.6 L239.6 431.4 L239.1 431.2 L238.6 431.0 L238.0 430.8 L237.3 430.5 L236.6 430.3 L235.8 430.1 L234.9 429.9 L234.1 429.7 L233.1 429.6 L232.2 429.5 L231.2 429.5 L230.2 429.5 L229.2 429.6 L228.1 429.7 L227.1 429.8 L226.0 430.0 L224.8 430.1 L223.6 430.4 L222.4 430.6 L221.1 431.0 L219.7 431.4 L218.3 431.8 L216.9 432.3 L215.4 432.9 L213.8 433.5 L212.1 434.1 L210.4 434.9 L208.6 435.6 L206.8 436.5 L204.9 437.3 L203.1 438.2 L201.2 439.2 L199.3 440.2 L197.5 441.2 L195.7 442.3 L193.9 443.4 L192.0 444.7 L190.2 445.9 L188.3 447.3 L186.4 448.7 L184.5 450.1 L182.7 451.5 L180.9 453.0 L179.1 454.4 L177.5 455.9 L175.8 457.3 L174.3 458.7 L172.8 460.1 L171.5 461.6 L170.1 463.0 L168.9 464.4 L167.7 465.8 L166.6 467.2 L165.5 468.6 L164.4 470.0 L163.3 471.4 L162.3 472.8 L161.3 474.2 L160.3 475.6 L159.3 477.0 L158.3 478.4 L157.3 479.9 L156.3 481.3 L155.4 482.8 L154.4 484.2 L153.5 485.6 L152.7 487.1 L151.8 488.5 L151.0 489.8 L150.2 491.2 L149.5 492.5 L148.8 493.8 L148.1 495.0 L147.4 496.2 L146.8 497.4 L146.2 498.6 L145.6 499.8 L145.0 500.9 L144.5 502.1 L144.0 503.3 L143.5 504.4 L143.0 505.6 L142.6 506.8 L142.2 508.0 L141.8 509.3 L141.5 510.6 L141.2 511.9 L141.0 513.2 L140.8 514.5 L140.7 515.7 L140.7 516.9 L140.7 518.1 L140.7 519.2 L140.7 520.2 L140.8 521.1 L140.8 522.0 L140.9 522.7 L141.0 523.5 L141.1 524.1 L141.3 524.7 L141.4 525.3 L141.6 525.8 L141.7 526.2 L141.8 526.6 L141.9 527.0 L142.0 527.2 L142.0 527.5 L143.2 527.3 L143.1 527.0 L143.1 526.7 L143.0 526.3 L142.9 525.9 L142.8 525.5 L142.7 525.0 L142.7 524.5 L142.7 524.0 L142.7 523.4 L142.7 522.7 L142.9 522.0 L143.0 521.3 L143.2 520.5 L143.5 519.5 L143.8 518.5 L144.1 517.4 L144.4 516.3 L144.7 515.2 L145.0 514.0 L145.3 512.8 L145.6 511.6 L145.9 510.4 L146.2 509.3 L146.6 508.2 L147.0 507.1 L147.4 506.0 L147.9 505.0 L148.4 503.9 L148.9 502.9 L149.5 501.8 L150.1 500.7 L150.7 499.6 L151.4 498.5 L152.1 497.3 L152.8 496.1 L153.5 494.9 L154.3 493.7 L155.1 492.4 L156.0 491.1 L156.9 489.7 L157.8 488.4 L158.7 487.0 L159.7 485.7 L160.6 484.3 L161.6 482.9 L162.6 481.5 L163.7 480.2 L164.7 478.8 L165.7 477.5 L166.8 476.1 L167.8 474.7 L168.8 473.4 L169.9 472.0 L170.9 470.7 L172.0 469.4 L173.1 468.0 L174.3 466.7 L175.5 465.3 L176.8 464.0 L178.1 462.7 L179.5 461.3 L181.0 459.9 L182.6 458.4 L184.3 457.0 L186.0 455.5 L187.7 454.0 L189.5 452.6 L191.2 451.2 L193.0 449.8 L194.7 448.5 L196.4 447.3 L198.1 446.1 L199.8 445.0 L201.5 443.9 L203.2 442.9 L205.0 441.9 L206.8 440.9 L208.5 440.0 L210.2 439.2 L211.9 438.4 L213.6 437.6 L215.2 436.9 L216.7 436.3 L218.1 435.7 L219.5 435.2 L220.8 434.7 L222.0 434.4 L223.2 434.0 L224.3 433.8 L225.4 433.5 L226.5 433.4 L227.5 433.2 L228.5 433.1 L229.4 433.0 L230.4 432.9 L231.2 432.9 L232.0 432.9 L232.8 432.9 L233.5 433.0 L234.2 433.2 L234.9 433.3 L235.5 433.5 L236.2 433.7 L236.8 434.0 L237.3 434.2 L237.9 434.4 L238.4 434.6 L238.9 434.8 L239.3 435.0 L239.7 435.1 L239.9 435.2 L240.1 435.2 L240.1 435.3 L240.1 435.2 L240.0 435.2 L240.0 435.2 L240.1 435.3 L240.2 435.4 L240.3 435.6 L240.6 436.0 L240.8 436.4 L241.1 436.7 L241.4 437.1 L241.6 437.4 L241.8 437.7 L242.1 438.1 L242.3 438.5 L242.5 439.0 L242.7 439.5 L242.9 440.1 L243.0 440.9 L243.2 441.8 L243.3 442.8 L243.4 443.8 L243.5 444.9 L243.6 446.1 L243.7 447.4 L243.7 448.7 L243.8 450.2 L243.8 451.9 L243.8 453.6 L243.9 455.6 L243.9 457.7 L244.0 460.1 L244.1 462.6 L244.2 465.5 L244.3 468.5 L244.3 471.8 L244.4 475.1 L244.5 478.6 L244.6 482.2 L244.7 485.8 L244.7 489.5 L244.8 493.1 L244.9 496.6 L245.0 500.0 L245.0 503.6 L245.1 507.3 L245.1 511.2 L245.2 515.1 L245.3 519.1 L245.3 523.0 L245.4 526.8 L245.4 530.4 L245.5 533.6 L245.5 536.6 L245.6 539.0 L245.6 541.0Z" fill="#6C9640" stroke="#1F4A33" stroke-width="1.20" stroke-linejoin="round"/><path d="M248.4 541.0 L248.4 539.0 L248.4 536.5 L248.3 533.6 L248.3 530.3 L248.2 526.8 L248.1 523.0 L248.1 519.1 L248.0 515.1 L247.9 511.1 L247.9 507.2 L247.8 503.5 L247.7 500.0 L247.6 496.5 L247.6 493.0 L247.5 489.4 L247.4 485.8 L247.3 482.2 L247.2 478.6 L247.1 475.1 L247.0 471.7 L247.0 468.4 L246.9 465.4 L246.8 462.6 L246.7 460.0 L246.6 457.6 L246.5 455.5 L246.5 453.6 L246.4 451.8 L246.4 450.1 L246.3 448.6 L246.2 447.2 L246.1 445.9 L246.0 444.7 L245.9 443.6 L245.8 442.5 L245.6 441.4 L245.4 440.4 L245.2 439.5 L245.0 438.7 L244.7 438.0 L244.4 437.4 L244.1 436.9 L243.8 436.4 L243.5 436.0 L243.2 435.6 L243.0 435.3 L242.7 435.0 L242.5 434.7 L242.3 434.3 L242.1 434.1 L242.0 433.9 L241.8 433.7 L241.6 433.5 L241.4 433.3 L241.2 433.2 L241.0 433.1 L240.7 433.0 L240.4 432.9 L240.1 432.8 L239.7 432.6 L239.2 432.5 L238.7 432.3 L238.2 432.0 L237.6 431.8 L236.9 431.6 L236.2 431.3 L235.5 431.1 L234.7 430.9 L233.9 430.8 L233.0 430.7 L232.1 430.6 L231.2 430.6 L230.2 430.6 L229.3 430.7 L228.3 430.8 L227.2 430.9 L226.1 431.1 L225.0 431.2 L223.8 431.5 L222.6 431.7 L221.4 432.1 L220.1 432.5 L218.7 432.9 L217.3 433.4 L215.8 434.0 L214.2 434.6 L212.6 435.3 L210.9 436.0 L209.1 436.8 L207.3 437.6 L205.5 438.5 L203.7 439.4 L201.9 440.4 L200.0 441.4 L198.2 442.4 L196.5 443.5 L194.7 444.7 L192.9 445.9 L191.1 447.2 L189.2 448.6 L187.4 449.9 L185.6 451.4 L183.8 452.8 L182.0 454.3 L180.3 455.7 L178.6 457.2 L177.0 458.6 L175.5 460.0 L174.1 461.4 L172.8 462.8 L171.5 464.2 L170.3 465.6 L169.1 467.0 L168.0 468.3 L166.9 469.7 L165.8 471.1 L164.8 472.5 L163.8 473.9 L162.7 475.2 L161.7 476.6 L160.7 478.0 L159.7 479.4 L158.7 480.9 L157.7 482.3 L156.8 483.7 L155.8 485.1 L154.9 486.5 L154.0 487.9 L153.2 489.3 L152.3 490.7 L151.6 492.0 L150.8 493.3 L150.1 494.5 L149.4 495.8 L148.7 497.0 L148.1 498.1 L147.4 499.3 L146.8 500.4 L146.3 501.6 L145.8 502.7 L145.2 503.8 L144.8 505.0 L144.3 506.1 L143.9 507.3 L143.5 508.5 L143.2 509.7 L142.8 510.9 L142.5 512.2 L142.3 513.5 L142.1 514.7 L141.9 515.9 L141.8 517.1 L141.7 518.2 L141.6 519.3 L141.6 520.3 L141.5 521.2 L141.5 522.0 L141.5 522.7 L141.6 523.4 L141.6 524.1 L141.7 524.7 L141.8 525.2 L142.0 525.7 L142.1 526.1 L142.2 526.5 L142.3 526.9 L142.3 527.2 L142.4 527.4 L142.8 527.4 L142.8 527.1 L142.7 526.8 L142.6 526.4 L142.5 526.0 L142.4 525.6 L142.3 525.1 L142.2 524.6 L142.2 524.0 L142.1 523.4 L142.1 522.7 L142.2 522.0 L142.3 521.2 L142.4 520.4 L142.6 519.4 L142.8 518.4 L143.0 517.3 L143.2 516.1 L143.5 514.9 L143.7 513.7 L144.0 512.5 L144.3 511.3 L144.6 510.1 L144.9 508.9 L145.3 507.7 L145.7 506.6 L146.2 505.5 L146.6 504.4 L147.1 503.3 L147.7 502.2 L148.2 501.1 L148.8 500.0 L149.4 498.9 L150.1 497.7 L150.8 496.6 L151.5 495.4 L152.2 494.1 L153.0 492.9 L153.8 491.5 L154.6 490.2 L155.5 488.9 L156.4 487.5 L157.3 486.1 L158.3 484.7 L159.2 483.3 L160.2 481.9 L161.2 480.5 L162.2 479.1 L163.3 477.8 L164.3 476.4 L165.3 475.0 L166.4 473.7 L167.4 472.3 L168.4 470.9 L169.5 469.6 L170.6 468.2 L171.8 466.8 L172.9 465.5 L174.2 464.1 L175.5 462.8 L176.9 461.4 L178.3 460.0 L179.9 458.6 L181.5 457.1 L183.2 455.7 L184.9 454.2 L186.7 452.7 L188.5 451.3 L190.3 449.9 L192.1 448.6 L193.8 447.3 L195.6 446.0 L197.3 444.9 L199.0 443.8 L200.8 442.7 L202.6 441.7 L204.4 440.7 L206.2 439.8 L207.9 438.9 L209.7 438.0 L211.4 437.2 L213.1 436.5 L214.7 435.8 L216.3 435.2 L217.7 434.6 L219.1 434.1 L220.4 433.6 L221.7 433.3 L222.9 432.9 L224.1 432.7 L225.2 432.4 L226.3 432.2 L227.4 432.1 L228.4 432.0 L229.4 431.9 L230.3 431.8 L231.2 431.8 L232.1 431.8 L232.9 431.8 L233.7 432.0 L234.5 432.1 L235.2 432.3 L235.9 432.5 L236.5 432.7 L237.2 432.9 L237.7 433.2 L238.3 433.4 L238.8 433.6 L239.3 433.8 L239.7 433.9 L240.0 434.0 L240.3 434.1 L240.5 434.2 L240.6 434.3 L240.7 434.3 L240.8 434.4 L240.9 434.5 L241.0 434.6 L241.1 434.8 L241.3 435.0 L241.5 435.3 L241.7 435.7 L242.0 436.0 L242.3 436.4 L242.5 436.7 L242.8 437.1 L243.1 437.5 L243.3 438.0 L243.6 438.5 L243.8 439.1 L244.0 439.8 L244.2 440.7 L244.4 441.6 L244.5 442.6 L244.6 443.7 L244.7 444.8 L244.8 446.0 L244.9 447.3 L245.0 448.7 L245.0 450.2 L245.1 451.8 L245.1 453.6 L245.2 455.6 L245.2 457.7 L245.3 460.0 L245.4 462.6 L245.5 465.4 L245.6 468.5 L245.6 471.7 L245.7 475.1 L245.8 478.6 L245.9 482.2 L246.0 485.8 L246.1 489.4 L246.1 493.0 L246.2 496.6 L246.3 500.0 L246.4 503.5 L246.4 507.3 L246.5 511.2 L246.6 515.1 L246.6 519.1 L246.7 523.0 L246.7 526.8 L246.8 530.3 L246.8 533.6 L246.9 536.5 L246.9 539.0 L247.0 541.0Z" fill="#A9BC5E"/><path d="M241.6 524.7 L241.2 523.0 L240.8 520.7 L240.3 518.0 L239.8 515.0 L239.2 511.8 L238.5 508.3 L237.9 504.9 L237.2 501.4 L236.5 498.1 L235.8 494.9 L235.2 492.1 L234.5 489.6 L234.0 487.4 L233.4 485.3 L232.9 483.3 L232.3 481.4 L231.8 479.5 L231.3 477.8 L230.7 476.2 L230.0 474.7 L229.3 473.4 L228.5 472.2 L227.6 471.2 L226.5 470.3 L225.2 469.8 L223.8 469.6 L222.4 469.7 L221.0 470.1 L219.7 470.6 L218.4 471.2 L217.0 472.0 L215.8 472.8 L214.5 473.6 L213.3 474.4 L212.2 475.2 L211.1 475.9 L210.1 476.7 L209.0 477.5 L208.0 478.3 L206.9 479.2 L205.9 480.1 L205.0 481.1 L204.0 482.1 L203.1 483.1 L202.2 484.1 L201.4 485.2 L200.5 486.2 L199.7 487.3 L199.0 488.4 L198.3 489.5 L197.7 490.6 L197.0 491.7 L196.5 492.8 L195.9 493.9 L195.4 495.1 L194.8 496.3 L194.3 497.5 L193.8 498.8 L193.3 500.1 L192.7 501.4 L192.1 502.9 L191.5 504.4 L190.9 506.0 L190.3 507.7 L189.7 509.4 L189.1 511.1 L188.5 512.8 L188.0 514.5 L187.4 516.2 L186.8 517.7 L186.3 519.3 L185.8 520.7 L185.3 522.0 L184.8 523.3 L184.3 524.6 L183.8 525.8 L183.4 527.0 L182.9 528.2 L182.5 529.3 L182.0 530.4 L181.6 531.4 L181.2 532.5 L180.8 533.4 L180.3 534.4 L179.9 535.2 L179.6 536.0 L179.2 536.7 L178.9 537.3 L178.5 537.9 L178.2 538.5 L177.8 539.1 L177.4 539.7 L177.0 540.4 L176.5 541.2 L176.0 542.1 L175.5 543.1 L174.9 544.2 L174.2 545.4 L173.5 546.7 L172.8 548.0 L172.0 549.4 L171.2 550.9 L170.4 552.3 L169.7 553.8 L169.0 555.3 L168.3 556.8 L167.7 558.2 L167.1 559.5 L166.5 560.9 L166.0 562.3 L165.4 563.7 L164.9 565.1 L164.3 566.5 L163.8 567.8 L163.3 569.1 L162.8 570.3 L162.4 571.4 L162.0 572.4 L161.6 573.2 L161.3 573.9 L161.9 574.1 L162.2 573.5 L162.6 572.6 L163.0 571.7 L163.5 570.6 L164.1 569.4 L164.7 568.2 L165.3 566.9 L166.0 565.6 L166.7 564.3 L167.5 563.0 L168.2 561.7 L168.9 560.5 L169.7 559.2 L170.4 557.9 L171.3 556.5 L172.1 555.1 L173.0 553.7 L173.8 552.3 L174.6 550.9 L175.4 549.5 L176.1 548.1 L176.8 546.8 L177.5 545.6 L178.1 544.5 L178.7 543.6 L179.1 542.7 L179.6 542.0 L180.0 541.3 L180.4 540.6 L180.7 540.0 L181.1 539.4 L181.5 538.8 L181.8 538.1 L182.2 537.4 L182.6 536.5 L183.1 535.6 L183.5 534.7 L183.9 533.6 L184.4 532.6 L184.8 531.5 L185.3 530.4 L185.7 529.3 L186.2 528.1 L186.6 526.9 L187.1 525.7 L187.6 524.4 L188.1 523.1 L188.6 521.7 L189.1 520.3 L189.7 518.8 L190.3 517.1 L190.8 515.5 L191.4 513.8 L192.0 512.1 L192.6 510.4 L193.2 508.7 L193.8 507.1 L194.4 505.5 L194.9 504.0 L195.5 502.6 L196.1 501.2 L196.6 499.9 L197.1 498.7 L197.7 497.5 L198.2 496.4 L198.7 495.2 L199.2 494.2 L199.7 493.1 L200.3 492.1 L200.9 491.1 L201.6 490.1 L202.3 489.1 L203.0 488.1 L203.8 487.1 L204.6 486.1 L205.4 485.1 L206.3 484.2 L207.2 483.3 L208.1 482.4 L209.0 481.5 L210.0 480.7 L210.9 479.9 L211.9 479.2 L212.9 478.5 L213.9 477.8 L215.1 477.0 L216.3 476.2 L217.4 475.4 L218.6 474.7 L219.8 474.0 L220.9 473.5 L222.0 473.1 L222.9 472.8 L223.7 472.7 L224.4 472.8 L224.9 473.1 L225.5 473.5 L226.0 474.1 L226.6 475.0 L227.2 476.1 L227.7 477.4 L228.3 478.8 L228.8 480.4 L229.3 482.2 L229.8 484.1 L230.3 486.1 L230.9 488.2 L231.5 490.4 L232.1 492.8 L232.7 495.6 L233.4 498.7 L234.1 502.0 L234.7 505.5 L235.4 508.9 L236.0 512.3 L236.6 515.6 L237.2 518.6 L237.7 521.3 L238.1 523.6 L238.4 525.3Z" fill="#6C9640" stroke="#1F4A33" stroke-width="1.20" stroke-linejoin="round"/><path d="M240.5 524.9 L240.2 523.2 L239.8 520.9 L239.3 518.2 L238.7 515.2 L238.1 511.9 L237.5 508.5 L236.8 505.1 L236.2 501.6 L235.5 498.3 L234.8 495.2 L234.2 492.3 L233.5 489.9 L233.0 487.7 L232.4 485.6 L231.9 483.6 L231.4 481.6 L230.8 479.8 L230.3 478.1 L229.7 476.6 L229.1 475.2 L228.5 473.9 L227.7 472.8 L226.9 471.9 L226.0 471.2 L224.9 470.8 L223.8 470.6 L222.6 470.7 L221.3 471.0 L220.1 471.5 L218.8 472.1 L217.6 472.8 L216.3 473.6 L215.1 474.4 L213.9 475.2 L212.8 476.0 L211.7 476.8 L210.7 477.5 L209.6 478.3 L208.6 479.1 L207.6 480.0 L206.6 480.9 L205.7 481.8 L204.8 482.8 L203.9 483.8 L203.0 484.8 L202.1 485.8 L201.3 486.8 L200.6 487.9 L199.8 488.9 L199.2 490.0 L198.5 491.1 L197.9 492.1 L197.4 493.2 L196.8 494.4 L196.3 495.5 L195.8 496.7 L195.2 497.9 L194.7 499.1 L194.2 500.4 L193.6 501.8 L193.0 503.2 L192.4 504.8 L191.8 506.4 L191.2 508.0 L190.7 509.7 L190.1 511.4 L189.5 513.1 L188.9 514.8 L188.3 516.5 L187.8 518.1 L187.2 519.6 L186.7 521.0 L186.2 522.4 L185.7 523.7 L185.2 525.0 L184.7 526.2 L184.3 527.4 L183.8 528.6 L183.4 529.7 L182.9 530.8 L182.5 531.8 L182.1 532.8 L181.7 533.8 L181.2 534.8 L180.8 535.7 L180.4 536.4 L180.1 537.1 L179.7 537.8 L179.4 538.4 L179.0 539.0 L178.6 539.6 L178.2 540.2 L177.8 540.9 L177.4 541.7 L176.9 542.6 L176.3 543.5 L175.7 544.6 L175.1 545.8 L174.4 547.1 L173.6 548.5 L172.8 549.9 L172.0 551.3 L171.3 552.8 L170.5 554.3 L169.7 555.7 L169.0 557.1 L168.3 558.5 L167.7 559.8 L167.1 561.1 L166.5 562.5 L165.9 563.9 L165.3 565.3 L164.7 566.6 L164.1 567.9 L163.6 569.2 L163.1 570.4 L162.6 571.5 L162.2 572.5 L161.8 573.3 L161.5 574.0 L161.7 574.0 L162.0 573.4 L162.4 572.5 L162.8 571.6 L163.3 570.5 L163.8 569.3 L164.4 568.1 L165.0 566.8 L165.7 565.4 L166.3 564.1 L167.0 562.7 L167.7 561.4 L168.3 560.2 L169.0 558.9 L169.7 557.5 L170.5 556.1 L171.3 554.7 L172.1 553.3 L172.9 551.8 L173.7 550.4 L174.5 549.0 L175.3 547.6 L176.0 546.4 L176.7 545.2 L177.3 544.1 L177.8 543.1 L178.3 542.2 L178.7 541.5 L179.2 540.8 L179.5 540.1 L179.9 539.5 L180.3 538.9 L180.6 538.3 L181.0 537.6 L181.4 536.9 L181.8 536.1 L182.2 535.2 L182.6 534.3 L183.0 533.3 L183.5 532.2 L183.9 531.2 L184.4 530.1 L184.8 528.9 L185.3 527.8 L185.7 526.6 L186.2 525.3 L186.7 524.1 L187.2 522.7 L187.7 521.4 L188.2 520.0 L188.8 518.4 L189.3 516.8 L189.9 515.2 L190.5 513.5 L191.1 511.8 L191.7 510.1 L192.2 508.4 L192.8 506.7 L193.4 505.1 L194.0 503.6 L194.6 502.2 L195.2 500.9 L195.7 499.6 L196.2 498.3 L196.7 497.1 L197.3 495.9 L197.8 494.8 L198.3 493.7 L198.9 492.6 L199.5 491.6 L200.1 490.6 L200.7 489.5 L201.4 488.5 L202.2 487.5 L203.0 486.5 L203.8 485.5 L204.7 484.5 L205.6 483.5 L206.5 482.6 L207.4 481.6 L208.3 480.8 L209.3 479.9 L210.3 479.1 L211.3 478.4 L212.3 477.6 L213.4 476.9 L214.5 476.1 L215.7 475.3 L216.9 474.5 L218.1 473.8 L219.3 473.1 L220.5 472.5 L221.7 472.1 L222.8 471.8 L223.7 471.7 L224.6 471.8 L225.4 472.2 L226.2 472.7 L226.9 473.5 L227.5 474.5 L228.1 475.7 L228.7 477.0 L229.2 478.5 L229.8 480.1 L230.3 481.9 L230.8 483.8 L231.3 485.8 L231.9 488.0 L232.5 490.1 L233.1 492.6 L233.7 495.4 L234.4 498.5 L235.1 501.8 L235.7 505.3 L236.4 508.7 L237.0 512.2 L237.6 515.4 L238.2 518.4 L238.7 521.1 L239.1 523.4 L239.5 525.1Z" fill="#A9BC5E"/><path d="M247.2 539.9 L247.3 539.0 L247.3 537.8 L247.3 536.5 L247.4 535.0 L247.4 533.4 L247.5 531.6 L247.5 529.8 L247.5 528.0 L247.5 526.0 L247.5 524.1 L247.4 522.3 L247.2 520.5 L247.0 518.7 L246.8 516.8 L246.6 514.9 L246.3 513.0 L245.9 511.1 L245.6 509.2 L245.2 507.3 L244.8 505.5 L244.4 503.7 L244.1 502.0 L243.7 500.4 L243.4 498.9 L243.0 497.5 L242.7 496.2 L242.4 495.1 L242.0 493.9 L241.7 492.9 L241.4 491.9 L241.1 490.9 L240.8 490.0 L240.4 489.0 L240.1 488.0 L239.8 487.0 L239.4 485.8 L239.0 484.6 L238.5 483.3 L238.1 481.9 L237.6 480.5 L237.1 479.1 L236.6 477.7 L236.1 476.3 L235.6 474.9 L235.1 473.5 L234.6 472.1 L234.0 470.7 L233.5 469.4 L233.0 468.0 L232.4 466.6 L231.8 465.2 L231.2 463.8 L230.6 462.3 L230.0 460.9 L229.4 459.6 L228.9 458.3 L228.3 457.2 L227.9 456.2 L227.5 455.3 L227.1 454.6 L227.1 454.6 L227.1 455.4 L227.2 456.3 L227.2 457.5 L227.3 458.7 L227.4 460.1 L227.6 461.6 L227.7 463.1 L227.8 464.6 L228.0 466.2 L228.2 467.7 L228.3 469.2 L228.5 470.6 L228.7 472.0 L228.8 473.5 L229.0 475.0 L229.2 476.5 L229.5 478.0 L229.7 479.5 L229.9 481.0 L230.2 482.4 L230.4 483.9 L230.7 485.3 L231.0 486.7 L231.2 488.0 L231.5 489.2 L231.8 490.4 L232.1 491.5 L232.3 492.5 L232.6 493.5 L232.9 494.5 L233.1 495.4 L233.4 496.4 L233.7 497.5 L234.0 498.6 L234.3 499.8 L234.6 501.1 L235.0 502.5 L235.4 504.1 L235.9 505.8 L236.3 507.5 L236.8 509.3 L237.3 511.1 L237.8 512.9 L238.3 514.7 L238.8 516.5 L239.2 518.2 L239.6 519.9 L240.0 521.5 L240.3 523.2 L240.6 524.9 L240.9 526.6 L241.2 528.4 L241.4 530.2 L241.7 532.0 L241.9 533.7 L242.1 535.3 L242.3 536.7 L242.5 538.1 L242.6 539.2 L242.8 540.1Z" fill="#6C9640" stroke="#1F4A33" stroke-width="1.20" stroke-linejoin="round"/><path d="M245.8 540.0 L245.8 539.0 L245.7 537.9 L245.7 536.6 L245.7 535.1 L245.6 533.5 L245.6 531.8 L245.5 530.0 L245.5 528.1 L245.4 526.2 L245.2 524.4 L245.1 522.6 L244.9 520.8 L244.6 519.1 L244.3 517.3 L244.0 515.4 L243.7 513.6 L243.3 511.7 L242.9 509.8 L242.5 507.9 L242.1 506.1 L241.7 504.4 L241.3 502.7 L240.9 501.1 L240.5 499.6 L240.2 498.3 L239.9 497.0 L239.5 495.8 L239.2 494.8 L238.9 493.7 L238.6 492.7 L238.3 491.8 L238.0 490.8 L237.7 489.8 L237.4 488.8 L237.1 487.7 L236.7 486.5 L236.4 485.3 L236.0 483.9 L235.6 482.6 L235.2 481.2 L234.8 479.7 L234.4 478.3 L234.0 476.8 L233.5 475.4 L233.1 473.9 L232.7 472.5 L232.3 471.1 L231.9 469.8 L231.5 468.4 L231.0 467.0 L230.6 465.5 L230.1 464.0 L229.7 462.6 L229.2 461.1 L228.8 459.8 L228.4 458.5 L228.0 457.3 L227.6 456.2 L227.3 455.3 L227.1 454.6 L227.1 454.6 L227.2 455.4 L227.4 456.3 L227.6 457.4 L227.8 458.6 L228.1 459.9 L228.4 461.4 L228.6 462.8 L228.9 464.3 L229.2 465.9 L229.5 467.4 L229.8 468.8 L230.1 470.2 L230.4 471.6 L230.7 473.0 L231.0 474.5 L231.3 475.9 L231.6 477.4 L231.9 478.9 L232.3 480.4 L232.6 481.8 L232.9 483.3 L233.2 484.6 L233.6 486.0 L233.9 487.3 L234.2 488.5 L234.5 489.6 L234.8 490.7 L235.1 491.7 L235.4 492.7 L235.6 493.6 L235.9 494.6 L236.2 495.6 L236.5 496.7 L236.8 497.8 L237.1 499.0 L237.5 500.4 L237.8 501.9 L238.2 503.4 L238.7 505.1 L239.1 506.8 L239.5 508.6 L240.0 510.5 L240.4 512.3 L240.9 514.2 L241.3 516.0 L241.7 517.8 L242.0 519.5 L242.3 521.2 L242.6 522.9 L242.8 524.6 L243.1 526.4 L243.2 528.3 L243.4 530.1 L243.6 531.9 L243.7 533.6 L243.8 535.2 L243.9 536.7 L244.0 538.0 L244.1 539.1 L244.2 540.0Z" fill="#A9BC5E"/><path d="M248.7 524.7 L248.6 523.5 L248.4 521.9 L248.2 520.0 L247.9 517.9 L247.7 515.7 L247.4 513.3 L247.1 510.9 L246.8 508.4 L246.5 506.0 L246.2 503.7 L245.9 501.6 L245.6 499.6 L245.3 497.9 L245.1 496.2 L244.8 494.5 L244.5 492.9 L244.3 491.3 L244.0 489.8 L243.8 488.4 L243.5 486.9 L243.2 485.5 L243.0 484.2 L242.7 482.8 L242.5 481.5 L242.2 480.2 L241.9 478.8 L241.5 477.5 L241.2 476.2 L240.7 475.0 L240.1 473.9 L239.5 472.8 L238.8 471.8 L238.3 470.9 L237.9 470.1 L237.6 469.4 L237.4 468.8 L236.0 469.2 L236.1 469.8 L236.2 470.6 L236.3 471.5 L236.3 472.5 L236.2 473.7 L236.2 474.9 L236.2 476.2 L236.4 477.4 L236.7 478.7 L237.0 480.0 L237.3 481.2 L237.5 482.5 L237.8 483.8 L238.0 485.1 L238.3 486.4 L238.5 487.8 L238.8 489.2 L239.0 490.7 L239.2 492.2 L239.5 493.7 L239.7 495.3 L239.9 496.9 L240.2 498.6 L240.4 500.4 L240.6 502.3 L240.9 504.4 L241.2 506.7 L241.4 509.1 L241.7 511.5 L242.0 513.9 L242.3 516.3 L242.5 518.6 L242.7 520.7 L242.9 522.5 L243.1 524.1 L243.3 525.3Z" fill="#6C9640" stroke="#1F4A33" stroke-width="1.20" stroke-linejoin="round"/><path d="M247.0 524.9 L246.8 523.7 L246.6 522.1 L246.4 520.2 L246.2 518.2 L245.9 515.9 L245.6 513.5 L245.3 511.1 L245.0 508.6 L244.7 506.2 L244.5 503.9 L244.2 501.8 L243.9 499.9 L243.7 498.1 L243.4 496.4 L243.1 494.8 L242.9 493.2 L242.6 491.6 L242.4 490.1 L242.1 488.6 L241.9 487.2 L241.6 485.8 L241.4 484.5 L241.1 483.1 L240.9 481.8 L240.6 480.5 L240.3 479.2 L240.0 477.9 L239.6 476.6 L239.3 475.4 L238.8 474.2 L238.4 473.1 L238.0 472.1 L237.7 471.1 L237.4 470.3 L237.1 469.5 L237.0 468.9 L236.4 469.1 L236.6 469.7 L236.8 470.4 L236.9 471.3 L237.1 472.3 L237.3 473.4 L237.5 474.6 L237.7 475.8 L238.0 477.0 L238.3 478.3 L238.6 479.6 L238.9 480.9 L239.1 482.2 L239.4 483.5 L239.7 484.8 L239.9 486.1 L240.2 487.5 L240.4 488.9 L240.6 490.4 L240.9 491.9 L241.1 493.4 L241.4 495.0 L241.6 496.7 L241.8 498.4 L242.1 500.1 L242.3 502.0 L242.6 504.2 L242.9 506.5 L243.2 508.9 L243.5 511.3 L243.7 513.7 L244.0 516.1 L244.3 518.4 L244.5 520.5 L244.7 522.3 L244.9 523.9 L245.0 525.1Z" fill="#A9BC5E"/><path d="M245.8 541.1 L245.5 540.5 L245.2 539.8 L244.9 538.9 L244.5 538.0 L244.1 537.0 L243.6 535.9 L243.2 534.7 L242.7 533.5 L242.2 532.3 L241.7 531.1 L241.3 529.9 L240.8 528.7 L240.4 527.5 L240.0 526.4 L239.6 525.2 L239.1 523.9 L238.7 522.6 L238.2 521.3 L237.8 520.0 L237.2 518.6 L236.7 517.1 L236.1 515.7 L235.4 514.1 L234.7 512.6 L233.9 510.9 L233.1 509.3 L232.2 507.6 L231.2 506.0 L230.2 504.3 L229.2 502.6 L228.2 501.0 L227.2 499.3 L226.1 497.6 L225.1 495.9 L224.2 494.2 L223.3 492.4 L222.3 490.6 L221.3 488.5 L220.3 486.2 L219.2 483.9 L218.2 481.5 L217.1 479.2 L216.1 476.9 L215.1 474.7 L214.2 472.7 L213.4 471.0 L212.6 469.5 L212.0 468.3 L212.0 468.3 L212.1 469.6 L212.4 471.3 L212.6 473.2 L212.9 475.4 L213.3 477.7 L213.7 480.2 L214.2 482.8 L214.7 485.4 L215.2 488.0 L215.8 490.4 L216.5 492.8 L217.1 495.0 L217.9 497.0 L218.7 499.1 L219.6 501.0 L220.5 502.9 L221.4 504.8 L222.4 506.6 L223.3 508.3 L224.3 510.0 L225.2 511.6 L226.1 513.1 L226.9 514.6 L227.7 516.0 L228.4 517.5 L229.1 518.8 L229.7 520.2 L230.4 521.5 L231.0 522.8 L231.6 524.1 L232.2 525.3 L232.8 526.5 L233.4 527.7 L233.9 528.9 L234.6 530.1 L235.2 531.3 L235.8 532.5 L236.5 533.6 L237.2 534.8 L237.9 535.9 L238.6 537.0 L239.2 538.1 L239.8 539.1 L240.4 540.1 L241.0 540.9 L241.5 541.7 L241.9 542.4 L242.2 542.9Z" fill="#6C9640" stroke="#1F4A33" stroke-width="1.20" stroke-linejoin="round"/><path d="M244.6 541.7 L244.4 541.1 L244.0 540.4 L243.6 539.6 L243.2 538.7 L242.7 537.7 L242.2 536.6 L241.7 535.5 L241.1 534.3 L240.6 533.1 L240.0 531.9 L239.5 530.7 L239.0 529.5 L238.5 528.4 L238.0 527.2 L237.5 526.0 L237.1 524.8 L236.6 523.5 L236.1 522.2 L235.6 520.9 L235.0 519.5 L234.4 518.1 L233.8 516.7 L233.2 515.2 L232.4 513.7 L231.7 512.1 L230.8 510.5 L229.9 508.9 L229.0 507.3 L228.0 505.6 L227.0 503.9 L226.0 502.2 L225.0 500.5 L224.0 498.7 L223.0 496.9 L222.1 495.1 L221.3 493.3 L220.4 491.3 L219.5 489.1 L218.7 486.8 L217.8 484.4 L216.9 482.0 L216.0 479.5 L215.2 477.2 L214.4 474.9 L213.7 472.9 L213.0 471.1 L212.5 469.5 L212.0 468.3 L212.0 468.3 L212.3 469.6 L212.7 471.2 L213.1 473.1 L213.6 475.2 L214.2 477.5 L214.8 479.9 L215.5 482.4 L216.2 484.9 L216.9 487.4 L217.6 489.8 L218.4 492.1 L219.1 494.1 L219.9 496.1 L220.8 498.0 L221.7 499.9 L222.6 501.7 L223.6 503.5 L224.6 505.3 L225.6 507.0 L226.5 508.7 L227.5 510.3 L228.4 511.9 L229.2 513.4 L230.0 514.9 L230.7 516.4 L231.4 517.8 L232.0 519.2 L232.6 520.5 L233.2 521.9 L233.7 523.2 L234.3 524.4 L234.8 525.7 L235.4 526.9 L235.9 528.1 L236.5 529.3 L237.0 530.5 L237.6 531.6 L238.2 532.8 L238.8 534.0 L239.4 535.1 L240.1 536.3 L240.7 537.4 L241.2 538.4 L241.8 539.4 L242.3 540.3 L242.7 541.1 L243.1 541.8 L243.4 542.3Z" fill="#A9BC5E"/><path d="M247.0 544.1 L246.9 543.6 L246.8 543.1 L246.7 542.4 L246.7 541.5 L246.7 540.6 L246.7 539.6 L246.7 538.5 L246.7 537.3 L246.6 536.0 L246.5 534.6 L246.2 533.1 L245.9 531.7 L245.4 530.1 L244.8 528.6 L244.1 527.0 L243.2 525.4 L242.1 523.9 L240.9 522.4 L239.7 521.0 L238.3 519.7 L237.0 518.5 L235.8 517.3 L234.7 516.3 L233.7 515.3 L232.9 514.4 L232.2 513.5 L231.5 512.7 L230.9 511.8 L230.4 510.9 L229.9 510.1 L229.3 509.2 L228.8 508.4 L228.1 507.6 L227.4 506.9 L226.5 506.2 L225.6 505.5 L224.6 505.0 L223.5 504.5 L222.4 504.2 L221.3 503.9 L220.2 503.8 L219.1 503.6 L218.1 503.5 L217.0 503.4 L216.0 503.3 L215.0 503.3 L214.1 503.2 L213.2 503.1 L212.4 503.0 L211.5 502.9 L210.7 502.8 L209.9 502.8 L209.2 502.7 L208.4 502.7 L207.6 502.7 L206.8 502.7 L206.1 502.7 L205.3 502.7 L204.4 502.8 L203.6 502.8 L202.8 502.9 L202.0 502.9 L201.2 502.9 L200.3 502.9 L199.4 503.0 L198.5 503.0 L197.6 503.1 L196.6 503.3 L195.5 503.4 L194.4 503.7 L193.3 504.0 L192.1 504.4 L190.9 504.9 L189.6 505.3 L188.2 505.9 L186.7 506.5 L185.2 507.1 L183.7 507.8 L182.2 508.5 L180.7 509.3 L179.2 510.2 L177.8 511.1 L176.4 512.1 L175.1 513.1 L173.9 514.3 L172.8 515.6 L171.7 517.0 L170.6 518.5 L169.6 520.1 L168.8 521.7 L168.2 523.3 L167.6 524.9 L167.1 526.3 L166.6 527.6 L166.1 528.6 L165.6 529.3 L166.2 529.7 L166.7 528.9 L167.3 528.0 L168.1 526.9 L169.0 525.7 L170.1 524.4 L171.2 523.1 L172.3 521.7 L173.2 520.3 L174.2 518.9 L175.2 517.6 L176.3 516.5 L177.3 515.5 L178.4 514.6 L179.6 513.8 L180.9 513.0 L182.2 512.3 L183.7 511.5 L185.1 510.9 L186.6 510.3 L188.0 509.7 L189.4 509.1 L190.8 508.6 L192.1 508.2 L193.3 507.8 L194.3 507.5 L195.3 507.2 L196.2 507.0 L197.1 506.9 L198.0 506.8 L198.8 506.7 L199.6 506.7 L200.4 506.6 L201.2 506.6 L202.1 506.6 L202.9 506.6 L203.8 506.6 L204.6 506.5 L205.4 506.5 L206.1 506.5 L206.9 506.5 L207.6 506.5 L208.3 506.5 L209.0 506.5 L209.7 506.6 L210.4 506.6 L211.2 506.7 L211.9 506.8 L212.8 506.9 L213.7 507.0 L214.6 507.1 L215.6 507.3 L216.6 507.4 L217.5 507.6 L218.5 507.7 L219.4 507.9 L220.3 508.2 L221.1 508.5 L221.8 508.8 L222.4 509.1 L223.0 509.5 L223.5 509.9 L224.0 510.3 L224.4 510.8 L224.8 511.4 L225.2 512.0 L225.6 512.7 L226.1 513.5 L226.6 514.3 L227.1 515.3 L227.6 516.3 L228.1 517.5 L228.7 518.7 L229.3 520.0 L230.0 521.5 L230.7 523.0 L231.4 524.7 L232.2 526.3 L233.0 527.9 L233.9 529.4 L234.8 530.9 L235.8 532.2 L236.8 533.4 L237.7 534.5 L238.5 535.3 L239.2 536.1 L239.9 537.0 L240.5 537.8 L241.0 538.7 L241.5 539.6 L241.9 540.5 L242.2 541.3 L242.4 542.2 L242.6 542.9 L242.8 543.7 L242.9 544.4 L243.0 544.9Z" fill="#6C9640" stroke="#1F4A33" stroke-width="1.20" stroke-linejoin="round"/><path d="M245.7 544.4 L245.6 543.9 L245.5 543.3 L245.4 542.6 L245.3 541.7 L245.2 540.8 L245.1 539.9 L245.0 538.8 L244.8 537.7 L244.6 536.6 L244.3 535.4 L244.0 534.1 L243.5 532.9 L242.9 531.5 L242.2 530.1 L241.4 528.7 L240.4 527.2 L239.4 525.7 L238.3 524.2 L237.2 522.7 L236.1 521.3 L235.0 520.0 L233.9 518.7 L232.9 517.5 L232.1 516.4 L231.3 515.4 L230.7 514.4 L230.1 513.5 L229.5 512.6 L229.0 511.7 L228.5 510.9 L228.0 510.1 L227.5 509.4 L226.9 508.7 L226.3 508.0 L225.5 507.4 L224.8 506.8 L223.9 506.3 L222.9 505.9 L222.0 505.6 L221.0 505.3 L219.9 505.1 L218.9 505.0 L217.9 504.8 L216.9 504.7 L215.9 504.6 L214.9 504.5 L214.0 504.4 L213.1 504.3 L212.2 504.2 L211.4 504.1 L210.6 504.1 L209.9 504.0 L209.1 504.0 L208.3 503.9 L207.6 503.9 L206.8 503.9 L206.1 503.9 L205.3 504.0 L204.5 504.0 L203.7 504.0 L202.8 504.1 L202.0 504.1 L201.2 504.1 L200.3 504.1 L199.5 504.2 L198.6 504.2 L197.7 504.3 L196.7 504.4 L195.8 504.6 L194.7 504.8 L193.6 505.1 L192.5 505.5 L191.3 505.9 L190.0 506.4 L188.6 506.9 L187.2 507.5 L185.7 508.1 L184.2 508.8 L182.7 509.5 L181.2 510.3 L179.7 511.1 L178.3 512.0 L177.0 512.9 L175.8 513.9 L174.7 515.0 L173.6 516.2 L172.5 517.6 L171.5 519.1 L170.5 520.6 L169.6 522.2 L168.8 523.7 L168.1 525.2 L167.4 526.5 L166.8 527.7 L166.3 528.7 L165.8 529.4 L166.0 529.6 L166.5 528.8 L167.1 527.8 L167.8 526.7 L168.6 525.4 L169.5 524.1 L170.4 522.7 L171.4 521.2 L172.4 519.7 L173.4 518.3 L174.4 517.0 L175.5 515.8 L176.6 514.7 L177.7 513.8 L179.0 512.9 L180.3 512.1 L181.7 511.3 L183.2 510.6 L184.7 509.9 L186.1 509.2 L187.6 508.6 L189.0 508.1 L190.4 507.6 L191.7 507.1 L192.9 506.7 L194.0 506.3 L195.0 506.1 L196.0 505.9 L196.9 505.7 L197.8 505.6 L198.7 505.5 L199.5 505.5 L200.4 505.4 L201.2 505.4 L202.0 505.4 L202.9 505.4 L203.7 505.4 L204.6 505.3 L205.3 505.3 L206.1 505.3 L206.9 505.3 L207.6 505.3 L208.3 505.3 L209.0 505.3 L209.8 505.3 L210.5 505.4 L211.3 505.5 L212.1 505.6 L212.9 505.7 L213.8 505.8 L214.7 505.9 L215.7 506.0 L216.7 506.1 L217.7 506.2 L218.7 506.4 L219.7 506.6 L220.6 506.8 L221.5 507.1 L222.4 507.4 L223.1 507.8 L223.8 508.2 L224.5 508.7 L225.1 509.2 L225.6 509.8 L226.1 510.4 L226.6 511.1 L227.0 511.8 L227.5 512.6 L228.0 513.5 L228.5 514.4 L229.1 515.4 L229.7 516.5 L230.3 517.6 L231.1 518.8 L231.9 520.1 L232.7 521.6 L233.6 523.0 L234.6 524.6 L235.6 526.1 L236.6 527.6 L237.5 529.1 L238.5 530.5 L239.4 531.8 L240.2 533.1 L240.9 534.1 L241.5 535.2 L242.0 536.2 L242.5 537.2 L242.9 538.2 L243.2 539.2 L243.4 540.2 L243.7 541.1 L243.8 542.0 L244.0 542.8 L244.1 543.5 L244.2 544.1 L244.3 544.6Z" fill="#A9BC5E"/><path d="M247.1 540.1 L247.8 539.4 L248.7 538.5 L249.7 537.5 L250.9 536.4 L252.2 535.2 L253.5 533.9 L254.9 532.6 L256.3 531.3 L257.7 530.1 L259.0 528.9 L260.3 527.7 L261.5 526.7 L262.6 525.8 L263.8 525.0 L264.9 524.2 L266.0 523.4 L267.1 522.7 L268.3 521.9 L269.4 521.2 L270.6 520.4 L271.8 519.6 L273.0 518.8 L274.2 517.9 L275.5 517.0 L276.7 516.0 L278.0 515.0 L279.3 514.0 L280.6 512.9 L281.9 511.9 L283.2 510.8 L284.5 509.7 L285.9 508.6 L287.1 507.5 L288.4 506.5 L289.7 505.4 L291.0 504.4 L292.3 503.4 L293.6 502.3 L295.1 501.2 L296.5 500.1 L298.0 499.0 L299.4 498.0 L300.8 497.0 L302.1 496.0 L303.3 495.1 L304.4 494.3 L305.3 493.6 L306.0 493.0 L306.0 493.0 L305.2 493.4 L304.1 493.9 L302.9 494.4 L301.6 495.1 L300.1 495.8 L298.6 496.5 L296.9 497.3 L295.3 498.2 L293.7 499.0 L292.1 499.9 L290.5 500.7 L289.0 501.6 L287.6 502.5 L286.2 503.4 L284.8 504.3 L283.3 505.3 L281.9 506.2 L280.5 507.2 L279.1 508.2 L277.7 509.2 L276.4 510.2 L275.1 511.1 L273.8 512.1 L272.5 513.0 L271.3 513.9 L270.1 514.7 L269.0 515.5 L267.8 516.3 L266.6 517.0 L265.5 517.8 L264.3 518.6 L263.2 519.5 L262.0 520.3 L260.9 521.3 L259.7 522.2 L258.5 523.3 L257.3 524.4 L256.0 525.7 L254.7 527.0 L253.4 528.4 L252.0 529.9 L250.8 531.3 L249.5 532.7 L248.4 534.0 L247.3 535.2 L246.4 536.3 L245.6 537.2 L244.9 537.9Z" fill="#6C9640" stroke="#1F4A33" stroke-width="1.20" stroke-linejoin="round"/><path d="M246.4 539.4 L247.1 538.7 L247.9 537.8 L248.9 536.8 L250.1 535.6 L251.3 534.4 L252.6 533.1 L254.0 531.7 L255.3 530.4 L256.7 529.1 L258.0 527.8 L259.3 526.7 L260.5 525.6 L261.7 524.7 L262.8 523.8 L264.0 522.9 L265.1 522.1 L266.2 521.4 L267.4 520.6 L268.5 519.8 L269.7 519.1 L270.8 518.3 L272.0 517.5 L273.3 516.6 L274.5 515.7 L275.8 514.8 L277.1 513.8 L278.4 512.8 L279.7 511.7 L281.0 510.7 L282.4 509.6 L283.7 508.6 L285.0 507.5 L286.4 506.5 L287.7 505.4 L289.0 504.5 L290.3 503.5 L291.7 502.5 L293.1 501.5 L294.6 500.5 L296.1 499.5 L297.7 498.5 L299.2 497.5 L300.6 496.6 L301.9 495.7 L303.2 494.9 L304.3 494.1 L305.2 493.5 L306.0 493.0 L306.0 493.0 L305.2 493.4 L304.2 494.0 L303.1 494.6 L301.8 495.4 L300.3 496.1 L298.8 497.0 L297.3 497.9 L295.7 498.8 L294.1 499.7 L292.6 500.7 L291.1 501.6 L289.7 502.5 L288.3 503.4 L286.9 504.4 L285.5 505.3 L284.2 506.3 L282.8 507.4 L281.4 508.4 L280.0 509.4 L278.7 510.4 L277.3 511.4 L276.0 512.4 L274.7 513.4 L273.5 514.3 L272.3 515.2 L271.1 516.0 L269.9 516.8 L268.7 517.6 L267.5 518.4 L266.4 519.2 L265.2 519.9 L264.1 520.8 L263.0 521.6 L261.8 522.5 L260.6 523.4 L259.5 524.4 L258.3 525.5 L257.0 526.7 L255.7 528.0 L254.3 529.4 L253.0 530.8 L251.6 532.2 L250.4 533.5 L249.2 534.8 L248.1 536.0 L247.1 537.0 L246.3 537.9 L245.6 538.6Z" fill="#A9BC5E"/><path d="M249.0 537.9 L249.4 537.5 L249.9 537.0 L250.4 536.4 L251.0 535.7 L251.6 535.0 L252.3 534.3 L253.0 533.6 L253.8 532.8 L254.5 532.2 L255.3 531.6 L256.1 531.0 L256.9 530.6 L257.8 530.2 L258.7 529.8 L259.7 529.4 L260.7 529.0 L261.8 528.7 L262.8 528.3 L264.0 528.1 L265.1 527.8 L266.3 527.6 L267.6 527.4 L268.8 527.3 L270.1 527.2 L271.5 527.2 L272.9 527.2 L274.4 527.3 L275.9 527.4 L277.5 527.5 L279.2 527.7 L280.9 527.9 L282.6 528.1 L284.3 528.3 L286.1 528.5 L287.9 528.7 L289.7 528.9 L291.6 529.0 L293.7 529.2 L295.8 529.4 L298.1 529.6 L300.3 529.8 L302.6 530.0 L304.8 530.2 L306.8 530.4 L308.7 530.5 L310.4 530.6 L311.9 530.7 L313.0 530.8 L313.0 530.8 L311.9 530.4 L310.5 530.0 L308.9 529.6 L307.0 529.1 L305.0 528.5 L302.9 528.0 L300.7 527.4 L298.5 526.9 L296.3 526.4 L294.2 525.9 L292.1 525.5 L290.3 525.1 L288.5 524.8 L286.7 524.5 L285.0 524.2 L283.2 523.9 L281.4 523.6 L279.7 523.3 L278.0 523.1 L276.3 522.9 L274.6 522.8 L273.0 522.7 L271.4 522.7 L269.9 522.8 L268.4 522.9 L266.9 523.1 L265.6 523.4 L264.2 523.7 L262.9 524.0 L261.7 524.4 L260.4 524.8 L259.3 525.3 L258.2 525.8 L257.1 526.3 L256.1 526.8 L255.1 527.4 L254.1 528.1 L253.1 528.8 L252.2 529.6 L251.4 530.5 L250.7 531.4 L249.9 532.2 L249.3 533.1 L248.7 533.8 L248.2 534.6 L247.7 535.2 L247.3 535.7 L247.0 536.1Z" fill="#6C9640" stroke="#1F4A33" stroke-width="1.20" stroke-linejoin="round"/><path d="M248.3 537.3 L248.7 536.9 L249.2 536.4 L249.7 535.8 L250.3 535.1 L250.9 534.4 L251.5 533.6 L252.3 532.8 L253.0 532.1 L253.8 531.4 L254.6 530.7 L255.4 530.1 L256.3 529.6 L257.2 529.1 L258.2 528.6 L259.2 528.2 L260.2 527.8 L261.3 527.4 L262.5 527.1 L263.6 526.7 L264.8 526.5 L266.1 526.2 L267.4 526.0 L268.7 525.9 L270.0 525.8 L271.5 525.7 L272.9 525.8 L274.5 525.8 L276.0 525.9 L277.7 526.1 L279.3 526.3 L281.0 526.5 L282.8 526.7 L284.5 527.0 L286.3 527.2 L288.1 527.4 L289.9 527.7 L291.8 527.9 L293.8 528.1 L296.0 528.4 L298.2 528.7 L300.5 529.0 L302.7 529.4 L304.8 529.7 L306.9 529.9 L308.8 530.2 L310.4 530.4 L311.9 530.6 L313.0 530.8 L313.0 530.8 L311.9 530.5 L310.5 530.2 L308.8 529.9 L307.0 529.5 L304.9 529.1 L302.8 528.6 L300.6 528.2 L298.4 527.8 L296.2 527.4 L294.0 527.0 L292.0 526.6 L290.1 526.3 L288.3 526.1 L286.5 525.8 L284.8 525.5 L283.0 525.2 L281.3 525.0 L279.5 524.7 L277.8 524.5 L276.2 524.4 L274.6 524.3 L273.0 524.2 L271.4 524.2 L270.0 524.2 L268.5 524.3 L267.1 524.5 L265.8 524.7 L264.5 525.0 L263.3 525.3 L262.0 525.7 L260.9 526.1 L259.8 526.5 L258.7 526.9 L257.6 527.4 L256.6 527.9 L255.7 528.4 L254.7 529.0 L253.8 529.7 L253.0 530.5 L252.2 531.3 L251.4 532.1 L250.7 532.9 L250.1 533.7 L249.4 534.5 L248.9 535.2 L248.4 535.8 L248.0 536.3 L247.7 536.7Z" fill="#A9BC5E"/><path d="M250.4 539.3 L251.4 539.0 L252.6 538.7 L254.1 538.3 L255.7 537.8 L257.4 537.2 L259.2 536.7 L261.1 536.2 L263.0 535.8 L264.8 535.4 L266.7 535.2 L268.4 535.1 L269.9 535.1 L271.4 535.2 L272.9 535.5 L274.4 535.8 L275.9 536.3 L277.4 536.8 L279.0 537.4 L280.6 538.0 L282.3 538.7 L284.2 539.4 L286.1 540.1 L288.1 540.9 L290.3 541.5 L292.7 542.2 L295.4 543.0 L298.3 543.9 L301.4 544.7 L304.6 545.6 L307.8 546.4 L310.9 547.2 L313.9 547.9 L316.6 548.6 L319.0 549.2 L321.1 549.7 L322.8 550.0 L322.8 550.0 L321.2 549.3 L319.3 548.4 L317.0 547.4 L314.4 546.3 L311.6 545.1 L308.6 543.9 L305.6 542.7 L302.5 541.5 L299.5 540.3 L296.7 539.3 L294.0 538.3 L291.7 537.5 L289.6 536.7 L287.6 536.0 L285.8 535.2 L284.0 534.5 L282.3 533.8 L280.5 533.2 L278.9 532.6 L277.2 532.1 L275.5 531.6 L273.7 531.3 L271.9 531.0 L270.1 530.9 L268.1 531.0 L266.1 531.3 L264.1 531.7 L262.1 532.2 L260.1 532.8 L258.2 533.5 L256.3 534.1 L254.6 534.8 L253.1 535.4 L251.7 536.0 L250.5 536.4 L249.6 536.7Z" fill="#6C9640" stroke="#1F4A33" stroke-width="1.20" stroke-linejoin="round"/><path d="M250.1 538.5 L251.1 538.2 L252.3 537.8 L253.7 537.3 L255.3 536.8 L257.0 536.2 L258.9 535.7 L260.8 535.1 L262.7 534.6 L264.6 534.2 L266.5 533.9 L268.3 533.7 L270.0 533.7 L271.6 533.9 L273.2 534.1 L274.7 534.5 L276.3 534.9 L277.9 535.4 L279.5 536.0 L281.2 536.7 L282.9 537.3 L284.7 538.1 L286.6 538.8 L288.6 539.5 L290.8 540.2 L293.1 541.0 L295.8 541.8 L298.7 542.7 L301.8 543.7 L304.9 544.6 L308.0 545.6 L311.1 546.5 L314.0 547.4 L316.7 548.2 L319.1 548.9 L321.2 549.5 L322.8 550.0 L322.8 550.0 L321.2 549.4 L319.2 548.7 L316.9 547.8 L314.2 546.9 L311.3 545.8 L308.3 544.7 L305.2 543.6 L302.1 542.5 L299.1 541.5 L296.3 540.5 L293.6 539.6 L291.2 538.8 L289.1 538.1 L287.1 537.3 L285.3 536.6 L283.5 535.9 L281.7 535.2 L280.0 534.5 L278.4 534.0 L276.8 533.4 L275.1 533.0 L273.5 532.6 L271.8 532.4 L270.0 532.3 L268.2 532.3 L266.3 532.5 L264.3 532.9 L262.4 533.4 L260.4 533.9 L258.5 534.5 L256.7 535.1 L255.0 535.8 L253.4 536.3 L252.0 536.8 L250.8 537.3 L249.9 537.5Z" fill="#A9BC5E"/><path d="M251.3 534.8 L251.9 533.9 L252.7 532.7 L253.6 531.2 L254.6 529.6 L255.8 527.9 L256.9 526.1 L258.1 524.3 L259.3 522.6 L260.5 521.0 L261.6 519.5 L262.6 518.3 L263.5 517.4 L264.3 516.7 L265.0 516.0 L265.7 515.4 L266.3 515.0 L266.9 514.7 L267.3 514.5 L267.7 514.4 L268.1 514.4 L268.4 514.4 L268.8 514.5 L269.3 514.7 L269.9 515.0 L270.6 515.4 L271.3 516.0 L272.0 516.7 L272.8 517.6 L273.7 518.5 L274.5 519.7 L275.4 520.9 L276.4 522.2 L277.3 523.6 L278.3 525.2 L279.3 526.7 L280.3 528.4 L281.3 530.1 L282.4 532.1 L283.5 534.2 L284.6 536.4 L285.8 538.8 L286.9 541.2 L288.1 543.6 L289.3 546.0 L290.5 548.4 L291.6 550.7 L292.8 552.9 L293.9 555.0 L295.0 556.9 L296.1 558.8 L297.2 560.6 L298.3 562.5 L299.4 564.2 L300.4 565.9 L301.5 567.6 L302.5 569.2 L303.5 570.7 L304.5 572.1 L305.5 573.4 L306.4 574.6 L307.4 575.7 L308.2 576.6 L309.0 577.3 L309.8 578.0 L310.6 578.5 L311.3 578.9 L311.9 579.3 L312.6 579.7 L313.2 580.0 L313.9 580.5 L314.7 581.1 L315.7 581.9 L316.8 582.8 L318.0 583.8 L319.3 584.9 L320.6 586.1 L322.0 587.3 L323.5 588.6 L325.0 590.0 L326.6 591.3 L328.3 592.7 L330.1 594.2 L331.9 595.6 L333.8 597.0 L335.8 598.5 L338.1 600.2 L340.6 601.9 L343.2 603.7 L345.9 605.5 L348.6 607.4 L351.2 609.1 L353.7 610.7 L356.0 612.3 L358.1 613.6 L359.9 614.7 L361.2 615.6 L361.2 615.6 L360.0 614.5 L358.5 613.1 L356.6 611.5 L354.5 609.7 L352.2 607.8 L349.8 605.7 L347.4 603.6 L344.9 601.5 L342.5 599.5 L340.2 597.5 L338.1 595.6 L336.2 594.0 L334.5 592.4 L332.9 590.9 L331.3 589.4 L329.8 587.9 L328.3 586.4 L326.8 585.0 L325.5 583.6 L324.1 582.3 L322.9 581.0 L321.6 579.8 L320.4 578.7 L319.3 577.6 L318.2 576.7 L317.2 575.9 L316.3 575.3 L315.6 574.8 L314.9 574.4 L314.3 574.0 L313.8 573.7 L313.4 573.4 L312.9 573.0 L312.4 572.5 L311.8 571.8 L311.1 570.9 L310.2 569.8 L309.4 568.6 L308.4 567.3 L307.5 565.9 L306.5 564.3 L305.5 562.7 L304.5 561.1 L303.4 559.4 L302.3 557.6 L301.3 555.8 L300.2 553.9 L299.1 552.0 L298.0 550.1 L296.8 548.0 L295.7 545.8 L294.4 543.4 L293.2 541.1 L292.0 538.7 L290.7 536.3 L289.5 533.9 L288.3 531.6 L287.1 529.5 L285.9 527.5 L284.7 525.6 L283.6 523.9 L282.5 522.3 L281.5 520.8 L280.4 519.3 L279.4 518.0 L278.3 516.7 L277.3 515.4 L276.3 514.3 L275.3 513.3 L274.2 512.4 L273.2 511.7 L272.1 511.0 L271.0 510.5 L270.0 510.2 L268.9 510.0 L267.8 510.0 L266.7 510.2 L265.7 510.5 L264.8 510.9 L263.9 511.5 L263.1 512.1 L262.3 512.9 L261.4 513.7 L260.5 514.6 L259.5 515.7 L258.5 517.2 L257.4 518.8 L256.2 520.5 L255.1 522.4 L253.9 524.3 L252.9 526.1 L251.8 527.9 L250.9 529.6 L250.0 531.1 L249.3 532.3 L248.7 533.2Z" fill="#6C9640" stroke="#1F4A33" stroke-width="1.20" stroke-linejoin="round"/><path d="M250.4 534.3 L251.0 533.4 L251.8 532.2 L252.7 530.7 L253.7 529.1 L254.8 527.3 L256.0 525.5 L257.1 523.7 L258.3 521.9 L259.5 520.3 L260.6 518.8 L261.6 517.5 L262.5 516.5 L263.3 515.7 L264.1 515.0 L264.9 514.4 L265.5 513.9 L266.2 513.5 L266.8 513.2 L267.4 513.0 L268.0 513.0 L268.6 513.0 L269.2 513.1 L269.9 513.3 L270.6 513.7 L271.4 514.2 L272.2 514.8 L273.1 515.6 L274.0 516.5 L274.9 517.5 L275.8 518.7 L276.7 519.9 L277.7 521.3 L278.7 522.7 L279.7 524.2 L280.7 525.8 L281.7 527.5 L282.8 529.3 L283.9 531.2 L285.0 533.4 L286.2 535.6 L287.4 538.0 L288.6 540.4 L289.8 542.8 L291.0 545.2 L292.2 547.6 L293.3 549.8 L294.5 552.0 L295.6 554.0 L296.7 555.9 L297.8 557.8 L298.9 559.6 L299.9 561.4 L301.0 563.2 L302.1 564.9 L303.1 566.5 L304.1 568.1 L305.1 569.6 L306.1 570.9 L307.0 572.2 L307.9 573.4 L308.8 574.4 L309.6 575.2 L310.3 575.9 L311.0 576.5 L311.6 576.9 L312.3 577.3 L312.9 577.7 L313.5 578.1 L314.2 578.5 L315.0 579.0 L315.9 579.7 L316.9 580.5 L318.0 581.5 L319.2 582.5 L320.4 583.6 L321.7 584.9 L323.1 586.1 L324.6 587.4 L326.1 588.8 L327.6 590.2 L329.3 591.6 L331.0 593.1 L332.7 594.6 L334.6 596.0 L336.6 597.6 L338.8 599.3 L341.2 601.1 L343.8 603.0 L346.4 604.9 L349.0 606.8 L351.6 608.7 L354.0 610.4 L356.2 612.0 L358.2 613.4 L359.9 614.7 L361.2 615.6 L361.2 615.6 L360.0 614.6 L358.4 613.3 L356.4 611.8 L354.3 610.0 L351.9 608.2 L349.4 606.2 L346.9 604.2 L344.4 602.2 L341.9 600.3 L339.5 598.4 L337.4 596.6 L335.4 595.0 L333.7 593.5 L332.0 592.0 L330.3 590.5 L328.7 589.0 L327.2 587.6 L325.7 586.2 L324.3 584.8 L323.0 583.5 L321.7 582.3 L320.4 581.1 L319.3 580.0 L318.1 579.0 L317.1 578.1 L316.2 577.4 L315.3 576.8 L314.6 576.4 L313.9 576.0 L313.3 575.6 L312.8 575.3 L312.2 574.9 L311.7 574.4 L311.0 573.8 L310.3 573.1 L309.6 572.1 L308.7 571.0 L307.8 569.7 L306.8 568.4 L305.9 566.9 L304.9 565.4 L303.8 563.8 L302.8 562.1 L301.7 560.4 L300.7 558.6 L299.6 556.7 L298.5 554.9 L297.4 553.0 L296.3 551.0 L295.1 548.9 L294.0 546.6 L292.8 544.3 L291.6 541.9 L290.3 539.5 L289.1 537.1 L287.9 534.7 L286.7 532.5 L285.5 530.3 L284.4 528.3 L283.3 526.5 L282.2 524.9 L281.2 523.3 L280.1 521.7 L279.1 520.3 L278.1 518.9 L277.1 517.6 L276.1 516.5 L275.2 515.4 L274.2 514.4 L273.3 513.6 L272.3 512.9 L271.4 512.3 L270.5 511.9 L269.6 511.6 L268.7 511.4 L267.9 511.4 L267.1 511.5 L266.3 511.8 L265.5 512.2 L264.7 512.6 L263.9 513.2 L263.2 513.9 L262.4 514.6 L261.5 515.5 L260.5 516.6 L259.5 517.9 L258.4 519.5 L257.2 521.2 L256.1 523.0 L254.9 524.9 L253.8 526.7 L252.7 528.5 L251.7 530.1 L250.9 531.6 L250.1 532.8 L249.6 533.7Z" fill="#A9BC5E"/><path d="M246 543 L251 529 M247 543 L257 531" stroke="#DCE6C8" stroke-width="1.5" fill="none"/><polygon points="278.5,561.6 296.4,546.5 289.5,618.0 268.9,635.9" fill="#0B0B0B" stroke="#000" stroke-width="1"/><polygon points="196.0,560.3 278.5,561.6 268.9,635.9 213.9,633.1" fill="#0B0B0B" stroke="#000" stroke-width="1"/><polygon points="213.9,544.3 296.4,546.5 278.5,561.6 196.0,560.3" fill="#B98242" stroke="#1a1a1a" stroke-width="1.2" stroke-linejoin="round"/><polyline points="198.2,570.7 275.8,572.6 292.3,561.6" fill="none" stroke="#A8A8A8" stroke-width="1.4"/><rect x="243.4" y="543.5" width="4.6" height="8" rx="1.5" fill="#F2F2E8"/><path d="M782.6 549.3 L782.9 546.9 L783.4 544.0 L783.8 540.5 L784.4 536.6 L785.0 532.4 L785.6 528.0 L786.2 523.3 L786.9 518.6 L787.5 513.9 L788.2 509.2 L788.8 504.7 L789.3 500.4 L789.8 496.2 L790.4 491.9 L790.9 487.5 L791.4 483.1 L791.8 478.7 L792.3 474.3 L792.8 469.9 L793.2 465.7 L793.7 461.7 L794.2 457.8 L794.7 454.2 L795.2 450.8 L795.7 447.6 L796.2 444.7 L796.7 442.0 L797.3 439.5 L797.8 437.0 L798.3 434.7 L798.9 432.5 L799.4 430.2 L800.0 428.0 L800.5 425.8 L801.0 423.6 L801.6 421.3 L802.1 419.0 L802.6 416.8 L803.1 414.6 L803.6 412.5 L804.1 410.4 L804.7 408.3 L805.2 406.2 L805.7 404.2 L806.2 402.1 L806.7 400.1 L807.2 398.0 L807.7 395.9 L808.2 393.8 L808.7 391.5 L809.3 389.2 L809.8 386.9 L810.4 384.5 L810.9 382.2 L811.4 380.0 L811.9 377.9 L812.3 376.0 L812.7 374.3 L813.0 372.8 L813.2 371.6 L813.2 371.6 L812.6 372.7 L811.9 374.0 L811.1 375.6 L810.2 377.3 L809.3 379.2 L808.3 381.3 L807.2 383.4 L806.2 385.6 L805.2 387.8 L804.2 389.9 L803.2 392.1 L802.3 394.1 L801.4 396.0 L800.6 398.0 L799.7 399.9 L798.9 401.9 L798.0 403.9 L797.2 405.9 L796.4 407.9 L795.5 410.0 L794.7 412.1 L794.0 414.2 L793.2 416.5 L792.4 418.7 L791.7 421.0 L791.0 423.1 L790.3 425.3 L789.6 427.5 L788.9 429.8 L788.3 432.2 L787.6 434.6 L787.0 437.2 L786.4 439.9 L785.9 442.8 L785.3 445.9 L784.8 449.2 L784.4 452.8 L783.9 456.6 L783.5 460.6 L783.1 464.7 L782.8 469.0 L782.4 473.4 L782.1 477.8 L781.8 482.2 L781.5 486.7 L781.3 491.1 L781.0 495.4 L780.7 499.6 L780.4 503.8 L780.1 508.4 L779.7 513.1 L779.4 517.8 L779.1 522.6 L778.8 527.3 L778.5 531.8 L778.2 536.0 L778.0 539.9 L777.7 543.4 L777.5 546.4 L777.4 548.7Z" fill="#5CB64C" stroke="#2E4A22" stroke-width="1.25" stroke-linejoin="round"/><path d="M780.0 549.0 L780.2 546.6 L780.5 543.7 L780.9 540.2 L781.3 536.3 L781.7 532.1 L782.2 527.6 L782.7 523.0 L783.1 518.2 L783.6 513.5 L784.1 508.8 L784.6 504.3 L785.0 500.0 L785.4 495.8 L785.8 491.5 L786.2 487.1 L786.6 482.7 L787.0 478.2 L787.4 473.8 L787.8 469.5 L788.2 465.2 L788.6 461.1 L789.1 457.2 L789.5 453.5 L790.0 450.0 L790.5 446.8 L791.0 443.8 L791.6 441.0 L792.1 438.3 L792.7 435.8 L793.3 433.4 L793.9 431.1 L794.5 428.9 L795.1 426.7 L795.8 424.5 L796.4 422.3 L797.0 420.0 L797.6 417.7 L798.3 415.5 L798.9 413.4 L799.6 411.2 L800.3 409.1 L800.9 407.1 L801.6 405.1 L802.3 403.0 L803.0 401.0 L803.6 399.0 L804.3 397.0 L805.0 395.0 L805.7 392.9 L806.5 390.7 L807.2 388.5 L808.0 386.2 L808.8 384.0" fill="none" stroke="#3A923A" stroke-width="0.6"/><path d="M780.0 549.1 L780.2 546.8 L780.5 543.9 L780.8 540.4 L781.2 536.5 L781.6 532.3 L782.0 527.8 L782.4 523.2 L782.8 518.4 L783.2 513.6 L783.5 508.9 L783.7 504.3 L783.9 500.0 L784.0 495.8 L784.1 491.5 L784.1 487.2 L784.1 482.9 L784.0 478.5 L784.0 474.2 L783.8 469.9 L783.7 465.7 L783.5 461.5 L783.4 457.4 L783.2 453.4 L782.9 449.6 L782.7 445.8 L782.4 442.1 L782.1 438.4 L781.8 434.8 L781.5 431.3 L781.1 427.8 L780.6 424.5 L780.2 421.2 L779.7 418.0 L779.2 415.0 L778.7 412.1 L778.1 409.3 L777.6 406.6 L777.0 404.1 L776.4 401.8 L775.8 399.6 L775.2 397.5 L774.6 395.5 L773.9 393.6 L773.3 391.7 L772.7 389.9 L772.1 388.1 L771.5 386.3 L770.9 384.4 L770.3 382.4 L769.7 380.4 L769.0 378.3 L768.3 376.1 L767.6 374.0 L766.9 372.0 L766.3 370.0 L765.7 368.1 L765.1 366.4 L764.6 364.9 L764.1 363.6 L763.7 362.6 L763.7 362.6 L763.7 363.7 L763.8 365.1 L763.8 366.7 L763.9 368.5 L764.0 370.4 L764.1 372.5 L764.3 374.7 L764.4 376.9 L764.6 379.1 L764.7 381.3 L764.9 383.5 L765.1 385.6 L765.3 387.6 L765.5 389.6 L765.7 391.5 L766.0 393.4 L766.2 395.3 L766.5 397.3 L766.7 399.3 L767.0 401.3 L767.2 403.5 L767.5 405.7 L767.7 408.1 L767.9 410.7 L768.1 413.5 L768.3 416.4 L768.5 419.4 L768.8 422.5 L769.0 425.7 L769.3 429.0 L769.6 432.4 L769.9 435.9 L770.2 439.4 L770.5 443.1 L770.8 446.7 L771.1 450.4 L771.3 454.2 L771.6 458.1 L771.9 462.2 L772.2 466.3 L772.5 470.5 L772.8 474.7 L773.1 478.9 L773.3 483.2 L773.6 487.5 L773.8 491.7 L774.0 495.9 L774.1 500.0 L774.2 504.2 L774.3 508.7 L774.3 513.3 L774.3 518.0 L774.3 522.8 L774.2 527.4 L774.2 531.9 L774.1 536.1 L774.1 540.0 L774.0 543.5 L774.0 546.5 L774.0 548.9Z" fill="#5CB64C" stroke="#2E4A22" stroke-width="1.25" stroke-linejoin="round"/><path d="M777.0 549.0 L777.1 546.6 L777.3 543.7 L777.5 540.2 L777.7 536.3 L777.9 532.1 L778.1 527.6 L778.3 523.0 L778.6 518.2 L778.7 513.5 L778.9 508.8 L779.0 504.3 L779.0 500.0 L779.0 495.8 L778.9 491.6 L778.8 487.3 L778.7 483.0 L778.6 478.7 L778.4 474.4 L778.2 470.2 L778.0 466.0 L777.7 461.8 L777.5 457.8 L777.2 453.8 L777.0 450.0 L776.7 446.3 L776.5 442.6 L776.2 438.9 L775.9 435.4 L775.5 431.9 L775.2 428.4 L774.8 425.1 L774.5 421.9 L774.1 418.7 L773.7 415.7 L773.4 412.8 L773.0 410.0 L772.6 407.4 L772.2 404.9 L771.8 402.6 L771.4 400.5 L771.0 398.4 L770.5 396.4 L770.1 394.5 L769.7 392.6 L769.2 390.7 L768.8 388.8 L768.4 386.9 L768.0 385.0 L767.6 383.0 L767.2 380.9 L766.8 378.7 L766.4 376.5 L765.9 374.3" fill="none" stroke="#3A923A" stroke-width="0.6"/><path d="M777.0 548.8 L776.9 546.9 L776.9 544.5 L776.8 541.8 L776.7 538.7 L776.6 535.3 L776.5 531.7 L776.3 528.0 L776.2 524.2 L776.0 520.4 L775.8 516.7 L775.6 513.0 L775.4 509.6 L775.1 506.2 L774.8 502.9 L774.5 499.5 L774.2 496.1 L773.8 492.7 L773.5 489.3 L773.1 485.9 L772.7 482.6 L772.3 479.2 L771.8 475.9 L771.4 472.6 L771.0 469.3 L770.5 466.0 L770.0 462.7 L769.5 459.4 L768.9 456.1 L768.3 452.8 L767.7 449.6 L767.0 446.3 L766.4 443.2 L765.6 440.1 L764.9 437.0 L764.1 434.1 L763.3 431.3 L762.4 428.5 L761.4 425.7 L760.4 423.0 L759.3 420.3 L758.2 417.7 L757.2 415.2 L756.1 412.8 L755.1 410.6 L754.2 408.6 L753.3 406.8 L752.6 405.3 L752.0 404.0 L752.0 404.0 L752.2 405.4 L752.4 407.1 L752.8 409.0 L753.2 411.2 L753.6 413.6 L754.1 416.1 L754.6 418.8 L755.0 421.5 L755.5 424.3 L756.0 427.1 L756.4 429.9 L756.7 432.7 L757.1 435.5 L757.4 438.4 L757.7 441.4 L758.0 444.5 L758.3 447.7 L758.7 450.9 L759.0 454.2 L759.4 457.5 L759.8 460.8 L760.2 464.1 L760.6 467.4 L761.0 470.7 L761.5 474.0 L762.0 477.2 L762.5 480.5 L762.9 483.9 L763.4 487.2 L763.9 490.5 L764.4 493.9 L764.8 497.2 L765.3 500.6 L765.8 503.9 L766.2 507.2 L766.6 510.4 L767.1 513.8 L767.5 517.4 L767.9 521.1 L768.4 524.8 L768.8 528.6 L769.2 532.3 L769.6 535.8 L769.9 539.2 L770.2 542.2 L770.5 545.0 L770.8 547.3 L771.0 549.2Z" fill="#5CB64C" stroke="#2E4A22" stroke-width="1.25" stroke-linejoin="round"/><path d="M774.0 549.0 L773.9 547.1 L773.7 544.8 L773.5 542.0 L773.3 538.9 L773.1 535.6 L772.8 532.0 L772.5 528.3 L772.3 524.5 L772.0 520.7 L771.7 517.0 L771.3 513.4 L771.0 510.0 L770.7 506.7 L770.3 503.4 L769.9 500.0 L769.5 496.7 L769.1 493.3 L768.7 489.9 L768.3 486.6 L767.8 483.2 L767.4 479.9 L766.9 476.6 L766.5 473.3 L766.0 470.0 L765.5 466.7 L765.1 463.4 L764.6 460.1 L764.1 456.8 L763.7 453.5 L763.2 450.2 L762.7 447.0 L762.2 443.9 L761.7 440.8 L761.1 437.7 L760.6 434.8 L760.0 432.0 L759.4 429.2 L758.7 426.4 L758.0 423.6 L757.2 420.9 L756.4 418.2 L755.6 415.6 L754.9 413.2" fill="none" stroke="#3A923A" stroke-width="0.6"/><path d="M752.4 404.9 L752.5 404.2 L752.5 403.3 L752.5 402.2 L752.5 401.0 L752.5 399.7 L752.5 398.4 L752.5 396.9 L752.5 395.4 L752.5 393.9 L752.5 392.4 L752.5 390.9 L752.5 389.4 L752.5 388.0 L752.4 386.5 L752.4 385.0 L752.3 383.6 L752.2 382.1 L752.0 380.5 L751.9 379.0 L751.7 377.3 L751.5 375.6 L751.3 373.7 L751.1 371.8 L750.8 369.7 L750.5 367.3 L750.2 364.6 L749.8 361.7 L749.3 358.5 L748.8 355.3 L748.3 352.0 L747.7 348.8 L747.1 345.8 L746.6 343.0 L746.0 340.5 L745.5 338.4 L745.1 336.8 L745.1 336.8 L744.8 338.4 L744.5 340.5 L744.1 343.1 L743.7 345.9 L743.3 349.0 L743.0 352.2 L742.7 355.5 L742.5 358.8 L742.3 362.0 L742.2 365.0 L742.2 367.8 L742.2 370.3 L742.3 372.5 L742.4 374.6 L742.6 376.5 L742.8 378.4 L743.0 380.1 L743.3 381.7 L743.6 383.3 L743.9 384.8 L744.3 386.3 L744.6 387.7 L745.1 389.1 L745.5 390.6 L746.0 392.0 L746.5 393.5 L747.0 395.0 L747.6 396.4 L748.2 397.8 L748.8 399.1 L749.4 400.4 L749.9 401.6 L750.4 402.6 L750.9 403.6 L751.2 404.4 L751.6 405.1Z" fill="#5CB64C" stroke="#2E4A22" stroke-width="1.25" stroke-linejoin="round"/><path d="M752.0 405.0 L751.9 404.3 L751.7 403.4 L751.4 402.4 L751.2 401.3 L750.9 400.1 L750.7 398.8 L750.4 397.4 L750.1 395.9 L749.8 394.5 L749.5 393.0 L749.2 391.5 L749.0 390.0 L748.8 388.6 L748.5 387.1 L748.3 385.7 L748.1 384.2 L747.9 382.7 L747.6 381.1 L747.4 379.5 L747.2 377.8 L747.0 376.0 L746.8 374.2 L746.7 372.1 L746.5 370.0 L746.3 367.6 L746.2 364.8 L746.0 361.8 L745.9 358.7 L745.8 355.4 L745.6 352.1 L745.5 348.9 L745.4 345.9" fill="none" stroke="#3A923A" stroke-width="0.6"/><path d="M786.0 530.5 L786.6 528.5 L787.3 526.0 L788.1 523.1 L789.0 519.8 L790.0 516.3 L791.0 512.5 L792.0 508.7 L793.0 504.8 L794.0 501.0 L794.9 497.3 L795.7 493.8 L796.4 490.7 L797.0 487.9 L797.7 485.1 L798.2 482.4 L798.8 479.7 L799.3 477.1 L799.7 474.6 L800.1 472.1 L800.5 469.6 L800.8 467.2 L801.1 464.9 L801.3 462.6 L801.4 460.3 L801.5 458.1 L801.5 455.8 L801.5 453.5 L801.4 451.3 L801.2 449.2 L801.1 447.2 L800.9 445.2 L800.7 443.4 L800.5 441.8 L800.3 440.3 L800.1 439.0 L800.0 438.0 L800.0 438.0 L799.8 439.0 L799.6 440.3 L799.4 441.8 L799.2 443.4 L798.9 445.2 L798.7 447.1 L798.4 449.1 L798.1 451.2 L797.8 453.3 L797.4 455.4 L797.0 457.6 L796.6 459.7 L796.1 461.8 L795.6 464.0 L795.0 466.2 L794.5 468.5 L793.9 470.8 L793.3 473.2 L792.7 475.7 L792.0 478.2 L791.4 480.9 L790.8 483.6 L790.2 486.4 L789.6 489.3 L789.0 492.4 L788.3 495.8 L787.5 499.5 L786.8 503.4 L786.0 507.3 L785.3 511.2 L784.6 515.0 L783.9 518.7 L783.3 522.0 L782.8 525.0 L782.3 527.5 L782.0 529.5Z" fill="#5CB64C" stroke="#2E4A22" stroke-width="1.25" stroke-linejoin="round"/><path d="M784.0 530.0 L784.4 528.0 L785.0 525.5 L785.7 522.6 L786.4 519.3 L787.3 515.7 L788.1 511.9 L789.0 508.0 L789.9 504.1 L790.8 500.2 L791.6 496.6 L792.3 493.1 L793.0 490.0 L793.6 487.1 L794.2 484.3 L794.8 481.6 L795.4 479.0 L796.0 476.4 L796.5 473.9 L797.0 471.4 L797.5 469.0 L797.9 466.7 L798.3 464.4 L798.7 462.2 L799.0 460.0 L799.3 457.8 L799.5 455.6 L799.6 453.4 L799.7 451.3 L799.8 449.2 L799.9 447.1 L799.9 445.2 L799.9 443.4" fill="none" stroke="#3A923A" stroke-width="0.6"/><path d="M771.2 548.5 L770.8 546.6 L770.3 544.3 L769.7 541.5 L769.1 538.5 L768.3 535.2 L767.6 531.6 L766.8 528.0 L766.0 524.2 L765.2 520.4 L764.4 516.6 L763.7 512.9 L763.0 509.4 L762.4 505.9 L761.8 502.2 L761.2 498.4 L760.7 494.4 L760.1 490.4 L759.5 486.5 L758.9 482.5 L758.3 478.7 L757.5 475.0 L756.7 471.4 L755.8 468.1 L754.8 465.1 L753.7 462.3 L752.6 459.8 L751.3 457.6 L750.1 455.5 L748.7 453.6 L747.4 451.9 L746.0 450.3 L744.7 448.8 L743.3 447.3 L742.0 445.9 L740.7 444.4 L739.4 442.9 L738.0 441.4 L736.6 439.7 L735.1 438.1 L733.5 436.5 L731.9 435.0 L730.4 433.5 L728.9 432.1 L727.5 430.8 L726.2 429.6 L725.1 428.5 L724.1 427.6 L723.3 426.9 L723.3 426.9 L723.9 427.8 L724.7 428.9 L725.7 430.1 L726.7 431.5 L727.9 433.0 L729.1 434.6 L730.4 436.3 L731.7 438.1 L733.0 439.8 L734.3 441.6 L735.5 443.3 L736.6 445.1 L737.7 446.8 L738.9 448.4 L740.1 450.0 L741.2 451.6 L742.4 453.1 L743.5 454.8 L744.5 456.4 L745.6 458.2 L746.5 460.1 L747.5 462.2 L748.3 464.5 L749.2 466.9 L749.9 469.7 L750.6 472.8 L751.3 476.2 L751.9 479.8 L752.5 483.5 L753.1 487.4 L753.7 491.4 L754.3 495.4 L754.9 499.3 L755.6 503.2 L756.3 507.0 L757.0 510.6 L757.8 514.2 L758.7 517.9 L759.6 521.7 L760.5 525.4 L761.5 529.2 L762.4 532.9 L763.3 536.4 L764.2 539.7 L765.0 542.7 L765.7 545.4 L766.3 547.7 L766.8 549.5Z" fill="#5CB64C" stroke="#2E4A22" stroke-width="1.25" stroke-linejoin="round"/><path d="M769.0 549.0 L768.6 547.1 L768.0 544.8 L767.4 542.1 L766.6 539.1 L765.8 535.8 L765.0 532.2 L764.1 528.6 L763.3 524.8 L762.4 521.0 L761.5 517.2 L760.7 513.5 L760.0 510.0 L759.3 506.4 L758.7 502.7 L758.1 498.8 L757.5 494.9 L756.9 490.9 L756.3 486.9 L755.7 483.0 L755.1 479.2 L754.4 475.6 L753.7 472.1 L752.9 468.9 L752.0 466.0 L751.0 463.4 L750.0 461.0 L748.9 458.8 L747.8 456.9 L746.6 455.0 L745.4 453.3 L744.2 451.7 L742.9 450.2 L741.7 448.6 L740.4 447.1 L739.2 445.6 L738.0 444.0 L736.8 442.3 L735.4 440.7 L734.0 439.0 L732.6 437.3 L731.2 435.7 L729.8 434.1 L728.4 432.6" fill="none" stroke="#3A923A" stroke-width="0.6"/><path d="M772.7 548.6 L772.3 546.6 L771.8 544.1 L771.2 541.1 L770.5 537.8 L769.8 534.2 L769.0 530.4 L768.2 526.5 L767.4 522.5 L766.6 518.5 L765.8 514.6 L765.1 510.9 L764.4 507.5 L763.8 504.2 L763.1 500.9 L762.5 497.7 L761.9 494.4 L761.2 491.2 L760.6 487.9 L760.0 484.8 L759.4 481.6 L758.8 478.6 L758.1 475.5 L757.5 472.6 L757.0 469.7 L756.4 466.8 L755.8 463.8 L755.2 460.8 L754.6 457.7 L754.1 454.7 L753.5 451.9 L753.0 449.1 L752.5 446.5 L752.0 444.1 L751.6 442.0 L751.2 440.2 L750.9 438.7 L750.9 438.7 L750.9 440.2 L751.0 442.1 L751.1 444.2 L751.2 446.6 L751.4 449.3 L751.5 452.1 L751.7 455.0 L751.9 458.1 L752.1 461.2 L752.4 464.3 L752.7 467.3 L753.0 470.3 L753.4 473.3 L753.8 476.3 L754.2 479.4 L754.7 482.5 L755.2 485.6 L755.8 488.8 L756.3 492.1 L757.0 495.3 L757.6 498.6 L758.2 501.9 L758.9 505.2 L759.6 508.5 L760.3 511.9 L761.2 515.6 L762.1 519.5 L763.0 523.4 L763.9 527.4 L764.9 531.3 L765.8 535.1 L766.7 538.7 L767.5 542.0 L768.2 544.9 L768.8 547.4 L769.3 549.4Z" fill="#5CB64C" stroke="#2E4A22" stroke-width="1.25" stroke-linejoin="round"/><path d="M771.0 549.0 L770.6 547.0 L770.0 544.5 L769.3 541.6 L768.6 538.3 L767.8 534.7 L766.9 530.9 L766.1 526.9 L765.2 523.0 L764.3 519.0 L763.5 515.1 L762.7 511.4 L762.0 508.0 L761.3 504.7 L760.7 501.4 L760.0 498.1 L759.4 494.9 L758.8 491.6 L758.2 488.4 L757.6 485.2 L757.0 482.1 L756.5 479.0 L756.0 475.9 L755.5 472.9 L755.0 470.0 L754.5 467.1 L754.1 464.0 L753.7 461.0 L753.3 457.9 L752.9 454.9 L752.5 452.0 L752.2 449.2 L751.9 446.6" fill="none" stroke="#3A923A" stroke-width="0.6"/><path d="M774.6 548.7 L774.5 546.3 L774.3 543.2 L774.0 539.5 L773.8 535.3 L773.5 530.8 L773.1 526.0 L772.8 521.2 L772.4 516.4 L772.0 511.7 L771.6 507.2 L771.1 503.1 L770.7 499.5 L770.3 496.3 L769.9 493.3 L769.4 490.4 L768.9 487.7 L768.4 485.2 L767.9 482.8 L767.3 480.4 L766.8 478.2 L766.2 476.0 L765.7 473.8 L765.1 471.7 L764.5 469.5 L763.9 467.3 L763.2 465.1 L762.5 462.9 L761.8 460.7 L761.1 458.6 L760.4 456.6 L759.7 454.7 L759.1 452.9 L758.4 451.2 L757.9 449.8 L757.4 448.5 L757.0 447.5 L757.0 447.5 L757.1 448.6 L757.2 449.9 L757.4 451.5 L757.5 453.2 L757.8 455.1 L758.0 457.2 L758.2 459.3 L758.5 461.5 L758.8 463.7 L759.0 466.0 L759.3 468.3 L759.5 470.5 L759.8 472.7 L760.0 474.9 L760.3 477.1 L760.6 479.3 L760.8 481.6 L761.1 483.9 L761.5 486.4 L761.8 488.9 L762.1 491.5 L762.5 494.3 L762.9 497.3 L763.3 500.5 L763.7 504.0 L764.2 508.0 L764.7 512.4 L765.3 517.1 L765.9 521.9 L766.5 526.7 L767.1 531.4 L767.6 535.9 L768.2 540.0 L768.7 543.7 L769.1 546.8 L769.4 549.3Z" fill="#5CB64C" stroke="#2E4A22" stroke-width="1.25" stroke-linejoin="round"/><path d="M772.0 549.0 L771.8 546.6 L771.5 543.4 L771.1 539.8 L770.7 535.6 L770.3 531.1 L769.8 526.4 L769.3 521.6 L768.9 516.7 L768.4 512.1 L767.9 507.6 L767.4 503.6 L767.0 500.0 L766.6 496.8 L766.2 493.8 L765.8 491.0 L765.3 488.3 L764.9 485.8 L764.5 483.3 L764.1 481.0 L763.7 478.7 L763.2 476.5 L762.8 474.3 L762.4 472.2 L762.0 470.0 L761.6 467.8 L761.1 465.6 L760.6 463.3 L760.1 461.1 L759.7 459.0 L759.2 456.9 L758.7 454.9 L758.3 453.1" fill="none" stroke="#3A923A" stroke-width="0.6"/><path d="M770.8 548.0 L770.4 546.6 L769.9 544.8 L769.3 542.7 L768.6 540.3 L767.9 537.6 L767.1 534.9 L766.2 532.0 L765.4 529.2 L764.5 526.3 L763.6 523.6 L762.8 521.0 L761.9 518.5 L761.1 516.3 L760.2 514.0 L759.4 511.7 L758.5 509.5 L757.6 507.4 L756.6 505.2 L755.6 503.2 L754.7 501.2 L753.7 499.2 L752.7 497.4 L751.8 495.6 L750.9 493.9 L750.0 492.2 L749.0 490.5 L748.1 488.8 L747.2 487.1 L746.3 485.5 L745.4 484.0 L744.5 482.6 L743.7 481.2 L743.0 480.0 L742.3 478.9 L741.7 478.0 L741.2 477.2 L741.2 477.2 L741.3 478.1 L741.5 479.2 L741.7 480.5 L742.0 481.9 L742.2 483.4 L742.6 485.1 L742.9 486.8 L743.3 488.6 L743.7 490.5 L744.2 492.4 L744.6 494.2 L745.1 496.1 L745.6 498.0 L746.2 500.0 L746.8 502.1 L747.5 504.1 L748.2 506.2 L749.0 508.4 L749.8 510.5 L750.6 512.7 L751.5 514.9 L752.3 517.1 L753.2 519.3 L754.1 521.5 L755.0 523.8 L755.9 526.3 L757.0 529.0 L758.0 531.7 L759.1 534.5 L760.2 537.2 L761.2 539.9 L762.2 542.4 L763.1 544.7 L763.9 546.8 L764.6 548.6 L765.2 550.0Z" fill="#5CB64C" stroke="#2E4A22" stroke-width="1.25" stroke-linejoin="round"/><path d="M768.0 549.0 L767.5 547.6 L766.9 545.8 L766.2 543.7 L765.4 541.3 L764.5 538.8 L763.6 536.1 L762.7 533.3 L761.7 530.4 L760.7 527.6 L759.8 524.9 L758.9 522.4 L758.0 520.0 L757.2 517.8 L756.3 515.5 L755.4 513.3 L754.5 511.1 L753.7 508.9 L752.8 506.8 L751.9 504.7 L751.1 502.7 L750.3 500.7 L749.5 498.7 L748.7 496.8 L748.0 495.0 L747.3 493.2 L746.6 491.4 L745.9 489.6 L745.2 487.9 L744.6 486.2 L744.0 484.5 L743.4 483.0 L742.8 481.5" fill="none" stroke="#3A923A" stroke-width="0.6"/><path d="M783.3 549.9 L783.8 548.8 L784.5 547.4 L785.3 545.7 L786.1 543.9 L787.1 541.9 L788.1 539.7 L789.2 537.4 L790.2 535.2 L791.3 532.8 L792.3 530.6 L793.2 528.3 L794.1 526.2 L795.0 524.2 L795.8 522.1 L796.6 520.0 L797.4 517.9 L798.2 515.8 L798.9 513.7 L799.7 511.6 L800.4 509.5 L801.1 507.3 L801.7 505.2 L802.3 503.1 L802.9 501.0 L803.5 498.8 L804.0 496.4 L804.6 494.0 L805.1 491.6 L805.5 489.1 L806.0 486.7 L806.4 484.3 L806.8 482.1 L807.1 480.1 L807.3 478.3 L807.6 476.8 L807.7 475.5 L807.7 475.5 L807.1 476.6 L806.4 478.0 L805.6 479.7 L804.7 481.5 L803.8 483.5 L802.8 485.7 L801.8 487.9 L800.8 490.2 L799.8 492.5 L798.9 494.8 L798.0 497.0 L797.1 499.0 L796.3 501.0 L795.5 503.1 L794.7 505.1 L793.9 507.2 L793.1 509.3 L792.3 511.3 L791.6 513.4 L790.9 515.5 L790.1 517.6 L789.4 519.7 L788.6 521.7 L787.9 523.8 L787.1 525.9 L786.3 528.1 L785.4 530.4 L784.5 532.8 L783.6 535.1 L782.8 537.4 L781.9 539.6 L781.1 541.7 L780.4 543.7 L779.7 545.4 L779.2 546.9 L778.7 548.1Z" fill="#5CB64C" stroke="#2E4A22" stroke-width="1.25" stroke-linejoin="round"/><path d="M781.0 549.0 L781.5 547.8 L782.1 546.4 L782.8 544.7 L783.6 542.8 L784.5 540.8 L785.4 538.6 L786.4 536.3 L787.4 534.0 L788.3 531.6 L789.3 529.3 L790.2 527.1 L791.0 525.0 L791.8 523.0 L792.6 520.9 L793.4 518.8 L794.1 516.7 L794.9 514.6 L795.6 512.5 L796.4 510.4 L797.1 508.3 L797.9 506.2 L798.6 504.1 L799.3 502.1 L800.0 500.0 L800.7 497.9 L801.4 495.6 L802.2 493.3 L802.9 490.9 L803.7 488.5 L804.4 486.2 L805.1 483.9 L805.8 481.8" fill="none" stroke="#3A923A" stroke-width="0.6"/><path d="M784.7 549.9 L785.4 548.8 L786.2 547.3 L787.2 545.7 L788.3 543.8 L789.5 541.7 L790.8 539.6 L792.1 537.3 L793.5 535.0 L794.8 532.7 L796.0 530.5 L797.3 528.3 L798.4 526.3 L799.5 524.3 L800.5 522.3 L801.6 520.3 L802.7 518.3 L803.7 516.3 L804.7 514.2 L805.7 512.2 L806.6 510.3 L807.5 508.3 L808.3 506.5 L809.1 504.6 L809.8 502.9 L810.5 501.2 L811.1 499.5 L811.8 497.8 L812.4 496.1 L812.9 494.5 L813.4 493.0 L813.9 491.5 L814.3 490.1 L814.7 488.9 L815.1 487.8 L815.4 486.8 L815.6 486.0 L815.6 486.0 L815.1 486.7 L814.6 487.5 L813.9 488.5 L813.2 489.6 L812.5 490.8 L811.7 492.2 L810.8 493.5 L809.9 495.0 L809.0 496.5 L808.1 498.0 L807.1 499.5 L806.2 501.1 L805.2 502.7 L804.2 504.4 L803.2 506.1 L802.1 508.0 L801.0 509.8 L800.0 511.8 L798.9 513.7 L797.8 515.7 L796.7 517.7 L795.7 519.7 L794.6 521.7 L793.6 523.7 L792.6 525.8 L791.4 528.0 L790.3 530.3 L789.1 532.6 L787.9 535.0 L786.7 537.3 L785.6 539.6 L784.5 541.7 L783.5 543.7 L782.6 545.4 L781.9 546.9 L781.3 548.1Z" fill="#5CB64C" stroke="#2E4A22" stroke-width="1.25" stroke-linejoin="round"/><path d="M783.0 549.0 L783.6 547.8 L784.4 546.4 L785.4 544.7 L786.4 542.7 L787.5 540.7 L788.8 538.4 L790.0 536.1 L791.3 533.8 L792.5 531.5 L793.7 529.2 L794.9 527.0 L796.0 525.0 L797.0 523.0 L798.1 521.0 L799.2 519.0 L800.2 517.0 L801.3 515.0 L802.3 513.0 L803.4 511.0 L804.4 509.1 L805.3 507.2 L806.3 505.4 L807.2 503.7 L808.0 502.0 L808.8 500.4 L809.6 498.7 L810.4 497.1 L811.1 495.6 L811.9 494.0 L812.5 492.6 L813.2 491.2 L813.8 489.9" fill="none" stroke="#3A923A" stroke-width="0.6"/><path d="M775.5 550 L771.5 532 M778 550 L779 530 M780 550 L786 533" stroke="#C9E0B0" stroke-width="1.7" fill="none" stroke-linecap="round" opacity="0.9"/><polygon points="808.5,564.6 828.4,549.4 820.8,620.2 799.5,636.1" fill="#0B0B0B" stroke="#000" stroke-width="1"/><polygon points="722.6,563.2 808.5,564.6 799.5,636.1 743.2,634.7" fill="#0B0B0B" stroke="#000" stroke-width="1"/><polygon points="743.9,548.1 828.4,549.4 808.5,564.6 722.6,563.2" fill="#B98242" stroke="#1a1a1a" stroke-width="1.2" stroke-linejoin="round"/><polyline points="725.3,575.4 806.4,576.4 826.3,562.5" fill="none" stroke="#A8A8A8" stroke-width="1.4"/><rect x="774.1" y="547.5" width="4.1" height="10.2" rx="1.5" fill="#F4F4EC"/><polygon points="70.5,699.6 84.9,699.6 65.2,716 73.8,716 39.7,743.5 54.8,723.2 40.3,723.2" fill="#F4B22E"/><text x="89.4" y="726.5" font-size="19.9" fill="#111">Drought stress</text><circle cx="241.6" cy="720.6" r="9.3" fill="#F39A1E"/><text x="274.8" y="725.5" font-size="19.9" fill="#111">Sugar</text><ellipse cx="374.8" cy="722.1" rx="29" ry="19.6" fill="#B7AEDF" stroke="#7D86BC" stroke-width="2"/><text x="349.8" y="725.8" font-size="13.4" style="font-family:&quot;Liberation Serif&quot;,serif" textLength="50.9" lengthAdjust="spacingAndGlyphs" fill="#1A1A40">TaZAT5L</text><text x="415.5" y="727.3" font-size="19.9" fill="#111">TaZAT5L protein</text><rect x="573.7" y="699.4" width="69.4" height="35.4" fill="#FCD8BC" stroke="#CC1A2A" stroke-width="3.2"/><text x="582" y="722.3" font-size="19.5" textLength="53.2" lengthAdjust="spacingAndGlyphs" fill="#B82C30">172bp</text><text x="654" y="722" font-size="19.9" fill="#111">contain 172 bp</text><path d="M799.6 730.8 V714.5 H846" fill="none" stroke="#E5157F" stroke-width="9.6" stroke-linecap="round" stroke-linejoin="round"/><path d="M876.5 714 L843 700 L849 714 L843 728 Z" fill="#E5157F"/><text x="887.6" y="727.2" font-size="19.9" fill="#111">Strong expression</text><polygon points="29.1,754.0 49.3,761.6 52.5,754.6 60.0,761.3 70.1,749.5 69.4,760.7 81.1,759.1 77.2,765.5 89.2,767.1 79.8,772.9 91.5,778.6 77.9,778.0 80.1,788.8 68.8,781.2 66.5,792.0 59.0,782.1 53.2,796.5 50.9,784.0 42.8,787.8 44.7,780.2 28.5,781.8 38.6,775.1 28.8,768.4 41.5,765.8" fill="#FFF20C" stroke="#1A1A1A" stroke-width="1.9"/><text x="59.6" y="775.3" font-size="10.5" font-weight="bold" text-anchor="middle" fill="#E07A1E">ROS</text><text x="110.5" y="777.2" font-size="19.9" fill="#111">Reactive oxygen species</text><rect x="346.7" y="758" width="87.6" height="33.7" rx="16.8" fill="#0F9DE6"/><text x="392.6" y="780" font-size="20" font-style="italic" text-anchor="middle" fill="#0A1F5A" stroke="#0A1F5A" stroke-width="0.4">TaSTP</text><text x="441.5" y="779.9" font-size="19.9" fill="#111"><tspan font-style="italic">TaSTP</tspan> gene</text><rect x="573.3" y="755.9" width="69.8" height="35.7" fill="#FCD8BC"/><line x1="571.7" y1="755.9" x2="644.7" y2="755.9" stroke="#C8141E" stroke-width="3.2" stroke-dasharray="6.00 7.40"/><line x1="571.7" y1="791.6" x2="644.7" y2="791.6" stroke="#C8141E" stroke-width="3.2" stroke-dasharray="6.00 7.40"/><line x1="573.3" y1="754.3" x2="573.3" y2="793.2" stroke="#C8141E" stroke-width="3.2" stroke-dasharray="5.00 6.30"/><line x1="643.1" y1="754.3" x2="643.1" y2="793.2" stroke="#C8141E" stroke-width="3.2" stroke-dasharray="5.00 6.30"/><text x="578.1" y="778.9" font-size="19.5" textLength="59.9" lengthAdjust="spacingAndGlyphs" fill="#B82C30">-172bp</text><text x="654" y="779.2" font-size="19.9" fill="#111">lack 172 bp</text><path d="M799.6 791.6 V769.7 H858" fill="none" stroke="#E5157F" stroke-width="3.4"/><path d="M872.8 769.7 L854.5 762.4 L858 769.7 L854.5 777 Z" fill="#E5157F"/><text x="887.3" y="785.6" font-size="19.9" fill="#111">Weak expression</text></svg>
</body></html>
